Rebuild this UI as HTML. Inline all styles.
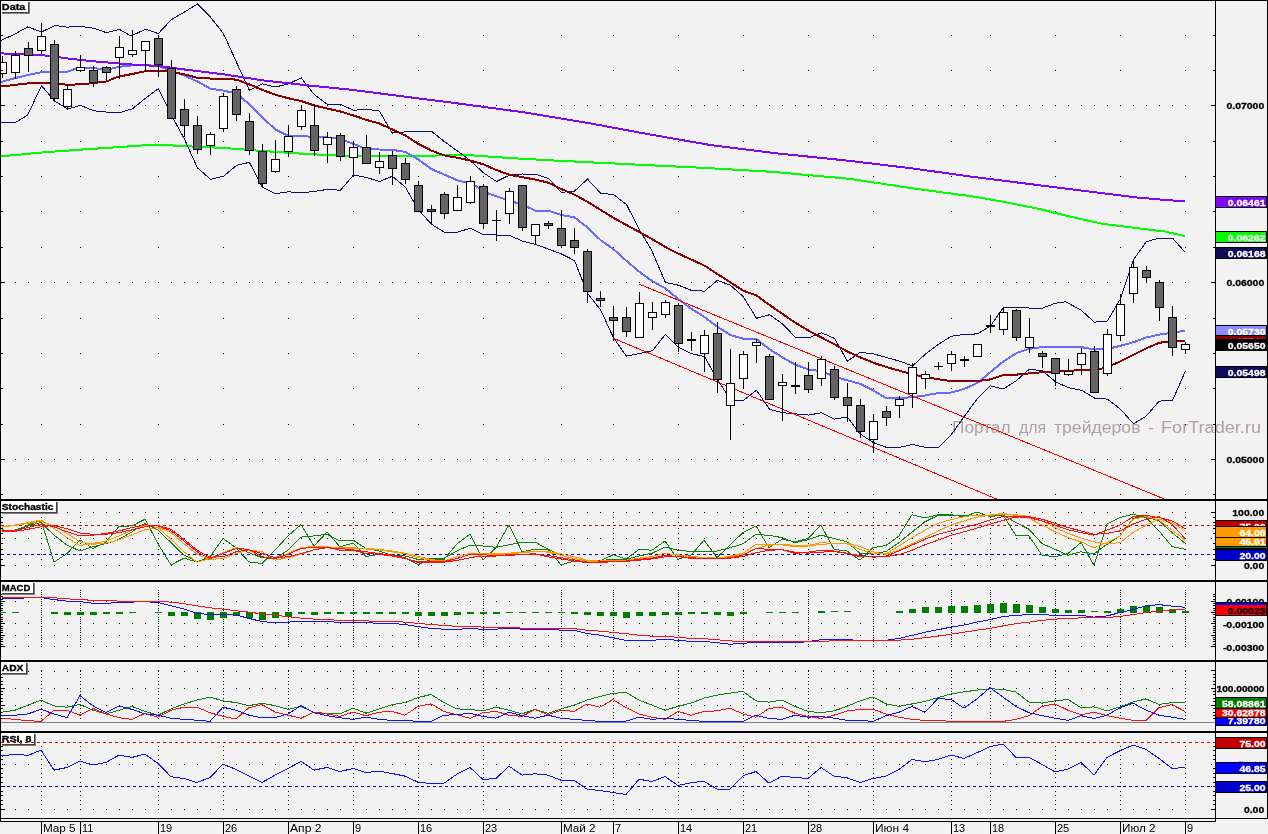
<!DOCTYPE html><html><head><meta charset="utf-8"><style>html,body{margin:0;padding:0;background:#f2f2f2}svg{display:block;will-change:transform}</style></head><body><svg width="1268" height="834" viewBox="0 0 1268 834" shape-rendering="crispEdges" font-family='"Liberation Sans", sans-serif'>
<rect x="0" y="0" width="1268" height="834" fill="#f2f2f2" />
<path d="M41 35h1M80 35h1M158 35h1M223 35h1M288 35h1M353 35h1M418 35h1M483 35h1M561 35h1M613 35h1M678 35h1M743 35h1M808 35h1M873 35h1M951 35h1M990 35h1M1055 35h1M1120 35h1M1185 35h1M41 70h1M80 70h1M158 70h1M223 70h1M288 70h1M353 70h1M418 70h1M483 70h1M561 70h1M613 70h1M678 70h1M743 70h1M808 70h1M873 70h1M951 70h1M990 70h1M1055 70h1M1120 70h1M1185 70h1M41 141h1M80 141h1M158 141h1M223 141h1M288 141h1M353 141h1M418 141h1M483 141h1M561 141h1M613 141h1M678 141h1M743 141h1M808 141h1M873 141h1M951 141h1M990 141h1M1055 141h1M1120 141h1M1185 141h1M41 176h1M80 176h1M158 176h1M223 176h1M288 176h1M353 176h1M418 176h1M483 176h1M561 176h1M613 176h1M678 176h1M743 176h1M808 176h1M873 176h1M951 176h1M990 176h1M1055 176h1M1120 176h1M1185 176h1M41 211h1M80 211h1M158 211h1M223 211h1M288 211h1M353 211h1M418 211h1M483 211h1M561 211h1M613 211h1M678 211h1M743 211h1M808 211h1M873 211h1M951 211h1M990 211h1M1055 211h1M1120 211h1M1185 211h1M41 247h1M80 247h1M158 247h1M223 247h1M288 247h1M353 247h1M418 247h1M483 247h1M561 247h1M613 247h1M678 247h1M743 247h1M808 247h1M873 247h1M951 247h1M990 247h1M1055 247h1M1120 247h1M1185 247h1M41 318h1M80 318h1M158 318h1M223 318h1M288 318h1M353 318h1M418 318h1M483 318h1M561 318h1M613 318h1M678 318h1M743 318h1M808 318h1M873 318h1M951 318h1M990 318h1M1055 318h1M1120 318h1M1185 318h1M41 353h1M80 353h1M158 353h1M223 353h1M288 353h1M353 353h1M418 353h1M483 353h1M561 353h1M613 353h1M678 353h1M743 353h1M808 353h1M873 353h1M951 353h1M990 353h1M1055 353h1M1120 353h1M1185 353h1M41 388h1M80 388h1M158 388h1M223 388h1M288 388h1M353 388h1M418 388h1M483 388h1M561 388h1M613 388h1M678 388h1M743 388h1M808 388h1M873 388h1M951 388h1M990 388h1M1055 388h1M1120 388h1M1185 388h1M41 424h1M80 424h1M158 424h1M223 424h1M288 424h1M353 424h1M418 424h1M483 424h1M561 424h1M613 424h1M678 424h1M743 424h1M808 424h1M873 424h1M951 424h1M990 424h1M1055 424h1M1120 424h1M1185 424h1M41 494h1M80 494h1M158 494h1M223 494h1M288 494h1M353 494h1M418 494h1M483 494h1M561 494h1M613 494h1M678 494h1M743 494h1M808 494h1M873 494h1M951 494h1M990 494h1M1055 494h1M1120 494h1M1185 494h1" stroke="#000" stroke-width="1" fill="none" transform="translate(0,0.5)"/>
<path d="M2 105h1M15 105h1M28 105h1M41 105h1M54 105h1M67 105h1M80 105h1M93 105h1M106 105h1M119 105h1M132 105h1M145 105h1M158 105h1M171 105h1M184 105h1M197 105h1M210 105h1M223 105h1M236 105h1M249 105h1M262 105h1M275 105h1M288 105h1M301 105h1M314 105h1M327 105h1M340 105h1M353 105h1M366 105h1M379 105h1M392 105h1M405 105h1M418 105h1M431 105h1M444 105h1M457 105h1M470 105h1M483 105h1M496 105h1M509 105h1M522 105h1M535 105h1M548 105h1M561 105h1M574 105h1M587 105h1M600 105h1M613 105h1M626 105h1M639 105h1M652 105h1M665 105h1M678 105h1M691 105h1M704 105h1M717 105h1M730 105h1M743 105h1M756 105h1M769 105h1M782 105h1M795 105h1M808 105h1M821 105h1M834 105h1M847 105h1M860 105h1M873 105h1M886 105h1M899 105h1M912 105h1M925 105h1M938 105h1M951 105h1M964 105h1M977 105h1M990 105h1M1003 105h1M1016 105h1M1029 105h1M1042 105h1M1055 105h1M1068 105h1M1081 105h1M1094 105h1M1107 105h1M1120 105h1M1133 105h1M1146 105h1M1159 105h1M1172 105h1M1185 105h1M2 282h1M15 282h1M28 282h1M41 282h1M54 282h1M67 282h1M80 282h1M93 282h1M106 282h1M119 282h1M132 282h1M145 282h1M158 282h1M171 282h1M184 282h1M197 282h1M210 282h1M223 282h1M236 282h1M249 282h1M262 282h1M275 282h1M288 282h1M301 282h1M314 282h1M327 282h1M340 282h1M353 282h1M366 282h1M379 282h1M392 282h1M405 282h1M418 282h1M431 282h1M444 282h1M457 282h1M470 282h1M483 282h1M496 282h1M509 282h1M522 282h1M535 282h1M548 282h1M561 282h1M574 282h1M587 282h1M600 282h1M613 282h1M626 282h1M639 282h1M652 282h1M665 282h1M678 282h1M691 282h1M704 282h1M717 282h1M730 282h1M743 282h1M756 282h1M769 282h1M782 282h1M795 282h1M808 282h1M821 282h1M834 282h1M847 282h1M860 282h1M873 282h1M886 282h1M899 282h1M912 282h1M925 282h1M938 282h1M951 282h1M964 282h1M977 282h1M990 282h1M1003 282h1M1016 282h1M1029 282h1M1042 282h1M1055 282h1M1068 282h1M1081 282h1M1094 282h1M1107 282h1M1120 282h1M1133 282h1M1146 282h1M1159 282h1M1172 282h1M1185 282h1M2 459h1M15 459h1M28 459h1M41 459h1M54 459h1M67 459h1M80 459h1M93 459h1M106 459h1M119 459h1M132 459h1M145 459h1M158 459h1M171 459h1M184 459h1M197 459h1M210 459h1M223 459h1M236 459h1M249 459h1M262 459h1M275 459h1M288 459h1M301 459h1M314 459h1M327 459h1M340 459h1M353 459h1M366 459h1M379 459h1M392 459h1M405 459h1M418 459h1M431 459h1M444 459h1M457 459h1M470 459h1M483 459h1M496 459h1M509 459h1M522 459h1M535 459h1M548 459h1M561 459h1M574 459h1M587 459h1M600 459h1M613 459h1M626 459h1M639 459h1M652 459h1M665 459h1M678 459h1M691 459h1M704 459h1M717 459h1M730 459h1M743 459h1M756 459h1M769 459h1M782 459h1M795 459h1M808 459h1M821 459h1M834 459h1M847 459h1M860 459h1M873 459h1M886 459h1M899 459h1M912 459h1M925 459h1M938 459h1M951 459h1M964 459h1M977 459h1M990 459h1M1003 459h1M1016 459h1M1029 459h1M1042 459h1M1055 459h1M1068 459h1M1081 459h1M1094 459h1M1107 459h1M1120 459h1M1133 459h1M1146 459h1M1159 459h1M1172 459h1M1185 459h1" stroke="#000" stroke-width="1" fill="none" transform="translate(0,0.5)"/>
<text x="952" y="433" font-size="16" font-weight="normal" fill="#b0a0a0" text-anchor="start" textLength="58.5" lengthAdjust="spacingAndGlyphs" >Портал</text>
<text x="1019" y="433" font-size="16" font-weight="normal" fill="#b0a0a0" text-anchor="start" textLength="27" lengthAdjust="spacingAndGlyphs" >для</text>
<text x="1054" y="433" font-size="16" font-weight="normal" fill="#b0a0a0" text-anchor="start" textLength="86.5" lengthAdjust="spacingAndGlyphs" >трейдеров</text>
<text x="1148" y="433" font-size="16" font-weight="normal" fill="#b0a0a0" text-anchor="start" textLength="6" lengthAdjust="spacingAndGlyphs" >-</text>
<text x="1161" y="433" font-size="16" font-weight="normal" fill="#b0a0a0" text-anchor="start" textLength="100" lengthAdjust="spacingAndGlyphs" >ForTrader.ru</text>
<clipPath id="main"><rect x="1" y="1" width="1214" height="498"/></clipPath>
<g clip-path="url(#main)">
<polyline points="0.0,156.5 42.0,152.5 84.0,149.4 125.0,146.7 145.4,145.2 164.5,145.0 184.4,146.2 223.5,147.9 262.3,151.0 305.0,153.9 353.5,156.4 418.4,155.9 465.0,154.9 509.3,158.0 561.4,160.9 649.0,165.2 712.0,168.3 775.5,172.1 850.0,178.9 913.0,188.4 976.0,196.9 1007.7,202.6 1039.0,208.9 1070.8,216.8 1102.0,223.7 1134.0,227.8 1165.5,231.6 1185.3,236.3" fill="none" stroke="#00ff00" stroke-width="2" />
<polyline points="1.3,81.9 15.4,78.0 28.0,75.0 41.5,72.2 54.5,72.0 67.5,71.8 77.2,68.0 93.5,68.0 106.6,69.7 119.5,66.8 132.6,65.3 145.4,65.2 158.3,65.9 171.3,70.7 184.4,75.5 197.4,81.5 210.6,88.7 223.5,90.6 236.5,93.5 249.4,104.3 262.3,117.4 275.3,129.4 288.5,135.9 301.0,136.0 314.0,137.0 327.4,137.4 340.5,139.1 353.5,143.9 366.4,149.2 379.4,149.5 392.3,149.9 405.3,151.8 418.4,159.5 431.4,169.1 444.3,174.6 457.5,180.3 467.6,183.0 474.6,185.5 489.0,193.9 503.4,198.7 522.5,204.7 535.5,210.7 548.4,210.7 561.4,215.0 574.5,217.4 587.5,227.5 600.7,240.2 613.6,249.3 626.6,261.0 639.5,272.0 652.5,281.2 665.4,288.4 678.4,299.1 691.3,308.7 704.5,317.1 717.4,326.7 730.4,335.1 743.3,338.7 756.5,339.2 769.7,349.3 782.5,357.5 795.4,364.7 808.6,369.5 821.5,371.2 834.5,376.7 847.4,380.3 860.4,383.9 873.5,390.6 886.5,398.3 899.4,398.3 912.6,397.1 925.6,395.4 938.5,393.0 951.3,392.5 964.2,389.0 977.4,383.0 990.3,372.2 1003.3,361.5 1016.5,353.1 1029.4,348.8 1042.6,347.1 1055.5,347.1 1068.5,347.1 1081.4,347.1 1094.4,349.6 1107.3,349.0 1120.4,345.8 1133.5,342.2 1146.5,337.4 1159.4,334.6 1172.4,332.7 1185.3,330.7" fill="none" stroke="#6a6aff" stroke-width="2" />
<polyline points="1.3,40.3 15.0,34.0 27.7,26.9 41.5,31.9 55.4,25.5 67.5,27.2 77.2,26.0 93.5,28.2 106.6,32.7 119.5,29.4 131.0,36.1 145.4,29.2 158.3,33.6 171.3,19.7 184.4,12.0 197.4,4.1 210.6,17.3 223.5,33.6 236.5,62.3 249.4,90.4 262.3,83.9 275.3,87.0 288.5,83.9 301.2,77.9 314.4,94.8 327.4,104.3 340.5,104.3 353.5,110.3 366.4,109.1 379.4,111.1 392.3,133.1 405.3,131.9 418.4,131.2 431.4,131.2 444.3,141.5 457.5,151.1 470.0,160.5 483.5,172.8 496.4,181.5 509.3,175.2 522.5,174.0 535.5,174.3 548.4,178.4 561.4,192.3 574.5,191.1 587.5,179.1 600.7,193.2 613.6,194.6 626.6,204.7 639.5,230.0 651.5,250.0 665.4,282.4 678.4,285.2 691.3,290.3 704.5,291.2 717.4,280.4 730.4,285.2 743.3,296.7 756.5,318.3 769.7,314.7 782.5,324.0 795.4,337.2 808.6,337.9 821.5,332.8 834.5,338.4 847.4,361.1 860.4,352.3 873.5,353.9 886.5,357.5 899.4,361.1 912.6,365.9 925.6,353.9 938.5,344.3 951.3,336.3 964.2,334.4 977.4,333.9 990.3,326.2 1003.3,307.5 1016.5,307.5 1029.4,308.0 1042.6,308.0 1055.5,303.2 1065.8,301.8 1081.4,310.4 1094.4,322.2 1107.3,321.0 1120.4,299.0 1133.5,259.5 1146.5,241.6 1159.4,238.0 1172.4,238.0 1185.3,252.4" fill="none" stroke="#101060" stroke-width="1" />
<polyline points="1.3,122.5 15.4,122.5 27.7,115.0 41.5,85.6 54.5,100.9 67.5,109.0 80.6,105.4 93.5,110.8 106.6,112.1 119.5,112.8 132.6,108.7 145.4,98.3 158.3,88.7 171.3,115.0 184.4,139.0 197.4,167.8 210.6,179.3 223.5,176.2 236.5,165.4 249.4,162.3 262.3,187.0 275.3,193.7 288.5,191.8 301.2,193.0 314.4,191.4 327.4,189.4 340.5,190.2 353.5,175.0 366.4,177.4 379.4,181.5 392.3,176.3 405.3,187.0 418.4,209.8 431.4,224.2 444.3,232.1 457.5,232.1 470.3,228.3 483.5,234.7 496.4,235.0 509.3,235.4 522.5,241.1 535.5,244.3 548.4,249.1 561.4,253.9 574.5,260.6 587.5,293.4 600.7,310.0 613.4,337.6 626.4,356.2 639.5,353.5 652.5,350.7 665.4,334.4 678.4,347.1 691.3,353.5 704.5,356.7 717.4,379.4 730.4,399.8 743.3,400.5 756.5,390.2 769.7,409.4 782.5,412.7 795.4,413.9 808.6,415.1 821.5,412.7 834.5,419.1 847.4,417.0 860.4,434.2 873.5,442.6 886.5,447.4 899.4,447.4 912.6,444.5 925.6,447.4 938.5,447.4 951.3,434.6 964.2,416.6 977.4,398.6 990.3,385.9 1003.3,389.0 1016.5,380.6 1029.4,369.1 1042.6,371.0 1055.5,381.8 1068.5,387.8 1081.4,390.2 1094.4,398.0 1107.5,399.1 1120.5,409.2 1133.5,423.8 1146.5,415.9 1159.1,401.1 1172.6,400.3 1185.3,371.4" fill="none" stroke="#101060" stroke-width="1" />
<polyline points="1.3,86.5 27.7,83.4 54.5,83.4 67.5,84.8 80.6,84.3 93.5,83.1 106.6,81.4 117.5,76.9 132.6,73.9 145.4,71.2 158.3,70.7 171.3,71.9 184.4,74.3 197.4,77.9 210.0,78.5 223.0,79.0 236.5,79.6 249.4,84.4 262.3,89.9 275.3,94.7 288.5,98.3 301.0,101.0 314.4,105.5 327.0,108.5 340.5,111.5 353.5,115.5 366.4,119.9 379.4,123.5 392.3,129.5 405.3,135.5 418.4,143.9 431.4,150.6 444.3,155.4 457.5,157.8 470.0,160.5 483.5,164.4 496.4,170.0 509.3,174.8 522.5,177.2 535.5,179.6 548.4,182.7 561.4,189.1 574.5,194.6 587.5,201.8 600.7,210.0 613.6,217.9 626.6,225.1 645.0,235.2 657.0,242.0 670.7,250.0 691.3,259.6 704.5,265.6 717.4,274.0 730.4,282.4 743.3,290.7 756.5,295.5 769.7,305.1 782.5,313.9 795.4,322.8 808.6,330.7 821.5,337.6 834.5,344.3 847.4,351.5 860.4,357.5 873.5,362.8 886.5,367.1 899.4,370.7 912.6,374.3 925.6,377.2 938.5,379.3 951.3,381.1 977.4,381.1 990.3,379.4 1003.3,375.1 1016.5,374.6 1029.4,373.4 1042.6,372.2 1055.5,371.8 1068.5,371.0 1081.4,369.8 1094.4,370.6 1107.3,366.9 1120.4,361.4 1133.5,354.9 1146.5,348.2 1159.4,342.7 1172.4,341.5 1185.3,341.0" fill="none" stroke="#8c0000" stroke-width="2" />
<polyline points="0.0,53.3 1.3,53.4 41.5,55.0 67.5,58.4 93.5,61.3 119.5,63.5 140.0,65.1 158.3,65.9 184.4,69.5 223.5,74.3 262.3,80.3 305.0,85.1 353.5,90.0 418.4,98.4 460.0,103.7 523.0,112.2 586.0,122.6 649.0,134.3 712.0,145.3 775.5,153.2 850.0,160.9 913.0,168.5 976.0,177.3 1039.0,185.2 1102.0,193.1 1134.0,197.2 1165.5,200.0 1185.3,201.3" fill="none" stroke="#8008f8" stroke-width="2" />
<polyline points="639.5,284.3 1170.0,501.3" fill="none" stroke="#ff0000" stroke-width="1" />
<polyline points="613.2,338.2 1003.0,501.7" fill="none" stroke="#ff0000" stroke-width="1" />
<rect x="2" y="56" width="1" height="22" fill="#000" />
<rect x="-2" y="62" width="9" height="12" fill="#000" />
<rect x="-1" y="63" width="7" height="10" fill="#fff" />
<rect x="15" y="51" width="1" height="28" fill="#000" />
<rect x="11" y="55" width="9" height="18" fill="#000" />
<rect x="12" y="56" width="7" height="16" fill="#fff" />
<rect x="28" y="42" width="1" height="30" fill="#000" />
<rect x="24" y="48" width="9" height="8" fill="#000" />
<rect x="25" y="49" width="7" height="6" fill="#646464" />
<rect x="41" y="23" width="1" height="31" fill="#000" />
<rect x="37" y="36" width="9" height="15" fill="#000" />
<rect x="38" y="37" width="7" height="13" fill="#fff" />
<rect x="54" y="40" width="1" height="62" fill="#000" />
<rect x="50" y="44" width="9" height="55" fill="#000" />
<rect x="51" y="45" width="7" height="53" fill="#646464" />
<rect x="67" y="84" width="1" height="26" fill="#000" />
<rect x="63" y="89" width="9" height="18" fill="#000" />
<rect x="64" y="90" width="7" height="16" fill="#fff" />
<rect x="80" y="55" width="1" height="17" fill="#000" />
<rect x="76" y="67" width="9" height="4" fill="#000" />
<rect x="77" y="68" width="7" height="2" fill="#fff" />
<rect x="93" y="66" width="1" height="21" fill="#000" />
<rect x="89" y="70" width="9" height="13" fill="#000" />
<rect x="90" y="71" width="7" height="11" fill="#646464" />
<rect x="106" y="66" width="1" height="15" fill="#000" />
<rect x="102" y="67" width="9" height="6" fill="#000" />
<rect x="103" y="68" width="7" height="4" fill="#646464" />
<rect x="119" y="36" width="1" height="43" fill="#000" />
<rect x="115" y="47" width="9" height="11" fill="#000" />
<rect x="116" y="48" width="7" height="9" fill="#fff" />
<rect x="132" y="30" width="1" height="27" fill="#000" />
<rect x="128" y="50" width="9" height="5" fill="#000" />
<rect x="129" y="51" width="7" height="3" fill="#fff" />
<rect x="145" y="41" width="1" height="31" fill="#000" />
<rect x="141" y="41" width="9" height="10" fill="#000" />
<rect x="142" y="42" width="7" height="8" fill="#fff" />
<rect x="158" y="35" width="1" height="42" fill="#000" />
<rect x="154" y="38" width="9" height="27" fill="#000" />
<rect x="155" y="39" width="7" height="25" fill="#646464" />
<rect x="171" y="60" width="1" height="59" fill="#000" />
<rect x="167" y="68" width="9" height="51" fill="#000" />
<rect x="168" y="69" width="7" height="49" fill="#646464" />
<rect x="184" y="99" width="1" height="38" fill="#000" />
<rect x="180" y="109" width="9" height="17" fill="#000" />
<rect x="181" y="110" width="7" height="15" fill="#646464" />
<rect x="197" y="116" width="1" height="38" fill="#000" />
<rect x="193" y="125" width="9" height="25" fill="#000" />
<rect x="194" y="126" width="7" height="23" fill="#646464" />
<rect x="210" y="132" width="1" height="23" fill="#000" />
<rect x="206" y="134" width="9" height="12" fill="#000" />
<rect x="207" y="135" width="7" height="10" fill="#fff" />
<rect x="223" y="93" width="1" height="39" fill="#000" />
<rect x="219" y="96" width="9" height="33" fill="#000" />
<rect x="220" y="97" width="7" height="31" fill="#fff" />
<rect x="236" y="86" width="1" height="35" fill="#000" />
<rect x="232" y="89" width="9" height="26" fill="#000" />
<rect x="233" y="90" width="7" height="24" fill="#646464" />
<rect x="249" y="113" width="1" height="42" fill="#000" />
<rect x="245" y="121" width="9" height="30" fill="#000" />
<rect x="246" y="122" width="7" height="28" fill="#646464" />
<rect x="262" y="144" width="1" height="43" fill="#000" />
<rect x="258" y="151" width="9" height="33" fill="#000" />
<rect x="259" y="152" width="7" height="31" fill="#646464" />
<rect x="275" y="140" width="1" height="33" fill="#000" />
<rect x="271" y="159" width="9" height="13" fill="#000" />
<rect x="272" y="160" width="7" height="11" fill="#fff" />
<rect x="288" y="125" width="1" height="32" fill="#000" />
<rect x="284" y="136" width="9" height="16" fill="#000" />
<rect x="285" y="137" width="7" height="14" fill="#fff" />
<rect x="301" y="105" width="1" height="25" fill="#000" />
<rect x="297" y="110" width="9" height="17" fill="#000" />
<rect x="298" y="111" width="7" height="15" fill="#fff" />
<rect x="314" y="104" width="1" height="52" fill="#000" />
<rect x="310" y="125" width="9" height="26" fill="#000" />
<rect x="311" y="126" width="7" height="24" fill="#646464" />
<rect x="327" y="132" width="1" height="31" fill="#000" />
<rect x="323" y="137" width="9" height="8" fill="#000" />
<rect x="324" y="138" width="7" height="6" fill="#fff" />
<rect x="340" y="133" width="1" height="28" fill="#000" />
<rect x="336" y="135" width="9" height="22" fill="#000" />
<rect x="337" y="136" width="7" height="20" fill="#646464" />
<rect x="353" y="141" width="1" height="34" fill="#000" />
<rect x="349" y="147" width="9" height="11" fill="#000" />
<rect x="350" y="148" width="7" height="9" fill="#fff" />
<rect x="366" y="135" width="1" height="29" fill="#000" />
<rect x="362" y="147" width="9" height="17" fill="#000" />
<rect x="363" y="148" width="7" height="15" fill="#646464" />
<rect x="379" y="152" width="1" height="22" fill="#000" />
<rect x="375" y="161" width="9" height="7" fill="#000" />
<rect x="376" y="162" width="7" height="5" fill="#fff" />
<rect x="392" y="151" width="1" height="34" fill="#000" />
<rect x="388" y="155" width="9" height="14" fill="#000" />
<rect x="389" y="156" width="7" height="12" fill="#646464" />
<rect x="405" y="158" width="1" height="26" fill="#000" />
<rect x="401" y="163" width="9" height="17" fill="#000" />
<rect x="402" y="164" width="7" height="15" fill="#646464" />
<rect x="418" y="181" width="1" height="31" fill="#000" />
<rect x="414" y="185" width="9" height="27" fill="#000" />
<rect x="415" y="186" width="7" height="25" fill="#646464" />
<rect x="431" y="205" width="1" height="19" fill="#000" />
<rect x="427" y="209" width="9" height="3" fill="#000" />
<rect x="428" y="210" width="7" height="1" fill="#646464" />
<rect x="444" y="192" width="1" height="27" fill="#000" />
<rect x="440" y="194" width="9" height="20" fill="#000" />
<rect x="441" y="195" width="7" height="18" fill="#646464" />
<rect x="457" y="185" width="1" height="26" fill="#000" />
<rect x="453" y="197" width="9" height="14" fill="#000" />
<rect x="454" y="198" width="7" height="12" fill="#fff" />
<rect x="470" y="176" width="1" height="28" fill="#000" />
<rect x="466" y="181" width="9" height="22" fill="#000" />
<rect x="467" y="182" width="7" height="20" fill="#fff" />
<rect x="483" y="184" width="1" height="45" fill="#000" />
<rect x="479" y="186" width="9" height="38" fill="#000" />
<rect x="480" y="187" width="7" height="36" fill="#646464" />
<rect x="496" y="210" width="1" height="31" fill="#000" />
<rect x="492" y="220" width="9" height="1" fill="#000" />
<rect x="509" y="188" width="1" height="36" fill="#000" />
<rect x="505" y="191" width="9" height="23" fill="#000" />
<rect x="506" y="192" width="7" height="21" fill="#fff" />
<rect x="522" y="185" width="1" height="46" fill="#000" />
<rect x="518" y="185" width="9" height="43" fill="#000" />
<rect x="519" y="186" width="7" height="41" fill="#646464" />
<rect x="535" y="224" width="1" height="20" fill="#000" />
<rect x="531" y="224" width="9" height="12" fill="#000" />
<rect x="532" y="225" width="7" height="10" fill="#fff" />
<rect x="548" y="221" width="1" height="8" fill="#000" />
<rect x="544" y="223" width="9" height="3" fill="#000" />
<rect x="545" y="224" width="7" height="1" fill="#646464" />
<rect x="561" y="210" width="1" height="38" fill="#000" />
<rect x="557" y="228" width="9" height="18" fill="#000" />
<rect x="558" y="229" width="7" height="16" fill="#646464" />
<rect x="574" y="228" width="1" height="26" fill="#000" />
<rect x="570" y="240" width="9" height="8" fill="#000" />
<rect x="571" y="241" width="7" height="6" fill="#646464" />
<rect x="587" y="249" width="1" height="54" fill="#000" />
<rect x="583" y="251" width="9" height="41" fill="#000" />
<rect x="584" y="252" width="7" height="39" fill="#646464" />
<rect x="600" y="291" width="1" height="16" fill="#000" />
<rect x="596" y="298" width="9" height="3" fill="#000" />
<rect x="597" y="299" width="7" height="1" fill="#646464" />
<rect x="613" y="306" width="1" height="35" fill="#000" />
<rect x="609" y="317" width="9" height="4" fill="#000" />
<rect x="610" y="318" width="7" height="2" fill="#646464" />
<rect x="626" y="307" width="1" height="30" fill="#000" />
<rect x="622" y="317" width="9" height="15" fill="#000" />
<rect x="623" y="318" width="7" height="13" fill="#646464" />
<rect x="639" y="292" width="1" height="46" fill="#000" />
<rect x="635" y="303" width="9" height="35" fill="#000" />
<rect x="636" y="304" width="7" height="33" fill="#fff" />
<rect x="652" y="302" width="1" height="28" fill="#000" />
<rect x="648" y="312" width="9" height="6" fill="#000" />
<rect x="649" y="313" width="7" height="4" fill="#fff" />
<rect x="665" y="300" width="1" height="18" fill="#000" />
<rect x="661" y="302" width="9" height="13" fill="#000" />
<rect x="662" y="303" width="7" height="11" fill="#fff" />
<rect x="678" y="303" width="1" height="49" fill="#000" />
<rect x="674" y="305" width="9" height="39" fill="#000" />
<rect x="675" y="306" width="7" height="37" fill="#646464" />
<rect x="691" y="332" width="1" height="19" fill="#000" />
<rect x="687" y="339" width="9" height="2" fill="#000" />
<rect x="704" y="330" width="1" height="42" fill="#000" />
<rect x="700" y="335" width="9" height="19" fill="#000" />
<rect x="701" y="336" width="7" height="17" fill="#fff" />
<rect x="717" y="322" width="1" height="71" fill="#000" />
<rect x="713" y="333" width="9" height="47" fill="#000" />
<rect x="714" y="334" width="7" height="45" fill="#646464" />
<rect x="730" y="349" width="1" height="91" fill="#000" />
<rect x="726" y="383" width="9" height="23" fill="#000" />
<rect x="727" y="384" width="7" height="21" fill="#fff" />
<rect x="743" y="351" width="1" height="38" fill="#000" />
<rect x="739" y="354" width="9" height="25" fill="#000" />
<rect x="740" y="355" width="7" height="23" fill="#fff" />
<rect x="756" y="339" width="1" height="24" fill="#000" />
<rect x="752" y="342" width="9" height="4" fill="#000" />
<rect x="753" y="343" width="7" height="2" fill="#fff" />
<rect x="769" y="354" width="1" height="46" fill="#000" />
<rect x="765" y="356" width="9" height="44" fill="#000" />
<rect x="766" y="357" width="7" height="42" fill="#646464" />
<rect x="782" y="374" width="1" height="47" fill="#000" />
<rect x="778" y="382" width="9" height="4" fill="#000" />
<rect x="779" y="383" width="7" height="2" fill="#fff" />
<rect x="795" y="362" width="1" height="32" fill="#000" />
<rect x="791" y="385" width="9" height="2" fill="#000" />
<rect x="808" y="362" width="1" height="31" fill="#000" />
<rect x="804" y="375" width="9" height="15" fill="#000" />
<rect x="805" y="376" width="7" height="13" fill="#646464" />
<rect x="821" y="356" width="1" height="30" fill="#000" />
<rect x="817" y="359" width="9" height="20" fill="#000" />
<rect x="818" y="360" width="7" height="18" fill="#fff" />
<rect x="834" y="366" width="1" height="34" fill="#000" />
<rect x="830" y="369" width="9" height="29" fill="#000" />
<rect x="831" y="370" width="7" height="27" fill="#646464" />
<rect x="847" y="383" width="1" height="39" fill="#000" />
<rect x="843" y="397" width="9" height="9" fill="#000" />
<rect x="844" y="398" width="7" height="7" fill="#646464" />
<rect x="860" y="399" width="1" height="39" fill="#000" />
<rect x="856" y="405" width="9" height="27" fill="#000" />
<rect x="857" y="406" width="7" height="25" fill="#646464" />
<rect x="873" y="414" width="1" height="39" fill="#000" />
<rect x="869" y="421" width="9" height="19" fill="#000" />
<rect x="870" y="422" width="7" height="17" fill="#fff" />
<rect x="886" y="406" width="1" height="20" fill="#000" />
<rect x="882" y="411" width="9" height="7" fill="#000" />
<rect x="883" y="412" width="7" height="5" fill="#646464" />
<rect x="899" y="396" width="1" height="22" fill="#000" />
<rect x="895" y="399" width="9" height="7" fill="#000" />
<rect x="896" y="400" width="7" height="5" fill="#fff" />
<rect x="912" y="363" width="1" height="45" fill="#000" />
<rect x="908" y="367" width="9" height="27" fill="#000" />
<rect x="909" y="368" width="7" height="25" fill="#fff" />
<rect x="925" y="371" width="1" height="18" fill="#000" />
<rect x="921" y="374" width="9" height="5" fill="#000" />
<rect x="922" y="375" width="7" height="3" fill="#fff" />
<rect x="938" y="362" width="1" height="8" fill="#000" />
<rect x="934" y="366" width="9" height="1" fill="#000" />
<rect x="951" y="351" width="1" height="20" fill="#000" />
<rect x="947" y="354" width="9" height="10" fill="#000" />
<rect x="948" y="355" width="7" height="8" fill="#fff" />
<rect x="964" y="356" width="1" height="11" fill="#000" />
<rect x="960" y="359" width="9" height="2" fill="#000" />
<rect x="977" y="344" width="1" height="13" fill="#000" />
<rect x="973" y="344" width="9" height="13" fill="#000" />
<rect x="974" y="345" width="7" height="11" fill="#fff" />
<rect x="990" y="315" width="1" height="18" fill="#000" />
<rect x="986" y="325" width="9" height="2" fill="#000" />
<rect x="1003" y="307" width="1" height="28" fill="#000" />
<rect x="999" y="312" width="9" height="18" fill="#000" />
<rect x="1000" y="313" width="7" height="16" fill="#fff" />
<rect x="1016" y="309" width="1" height="32" fill="#000" />
<rect x="1012" y="310" width="9" height="28" fill="#000" />
<rect x="1013" y="311" width="7" height="26" fill="#646464" />
<rect x="1029" y="318" width="1" height="35" fill="#000" />
<rect x="1025" y="337" width="9" height="11" fill="#000" />
<rect x="1026" y="338" width="7" height="9" fill="#fff" />
<rect x="1042" y="351" width="1" height="17" fill="#000" />
<rect x="1038" y="353" width="9" height="4" fill="#000" />
<rect x="1039" y="354" width="7" height="2" fill="#646464" />
<rect x="1055" y="358" width="1" height="28" fill="#000" />
<rect x="1051" y="358" width="9" height="16" fill="#000" />
<rect x="1052" y="359" width="7" height="14" fill="#646464" />
<rect x="1068" y="359" width="1" height="17" fill="#000" />
<rect x="1064" y="371" width="9" height="4" fill="#000" />
<rect x="1065" y="372" width="7" height="2" fill="#fff" />
<rect x="1081" y="348" width="1" height="27" fill="#000" />
<rect x="1077" y="353" width="9" height="12" fill="#000" />
<rect x="1078" y="354" width="7" height="10" fill="#fff" />
<rect x="1094" y="346" width="1" height="47" fill="#000" />
<rect x="1090" y="351" width="9" height="42" fill="#000" />
<rect x="1091" y="352" width="7" height="40" fill="#646464" />
<rect x="1107" y="329" width="1" height="47" fill="#000" />
<rect x="1103" y="334" width="9" height="40" fill="#000" />
<rect x="1104" y="335" width="7" height="38" fill="#fff" />
<rect x="1120" y="294" width="1" height="47" fill="#000" />
<rect x="1116" y="304" width="9" height="32" fill="#000" />
<rect x="1117" y="305" width="7" height="30" fill="#fff" />
<rect x="1133" y="261" width="1" height="42" fill="#000" />
<rect x="1129" y="267" width="9" height="27" fill="#000" />
<rect x="1130" y="268" width="7" height="25" fill="#fff" />
<rect x="1146" y="266" width="1" height="16" fill="#000" />
<rect x="1142" y="270" width="9" height="8" fill="#000" />
<rect x="1143" y="271" width="7" height="6" fill="#646464" />
<rect x="1159" y="280" width="1" height="41" fill="#000" />
<rect x="1155" y="282" width="9" height="26" fill="#000" />
<rect x="1156" y="283" width="7" height="24" fill="#646464" />
<rect x="1172" y="306" width="1" height="50" fill="#000" />
<rect x="1168" y="317" width="9" height="31" fill="#000" />
<rect x="1169" y="318" width="7" height="29" fill="#646464" />
<rect x="1185" y="342" width="1" height="11" fill="#000" />
<rect x="1181" y="344" width="9" height="6" fill="#000" />
<rect x="1182" y="345" width="7" height="4" fill="#fff" />
</g>
<rect x="0" y="0" width="1268" height="1" fill="#000" />
<rect x="0" y="0" width="1" height="822" fill="#000" />
<rect x="1267" y="0" width="1" height="819" fill="#000" />
<rect x="1215" y="0" width="1" height="822" fill="#000" />
<rect x="0" y="499" width="1268" height="2" fill="#000" />
<rect x="0" y="580" width="1268" height="2" fill="#000" />
<rect x="0" y="660" width="1268" height="2" fill="#000" />
<rect x="0" y="731" width="1268" height="2" fill="#000" />
<rect x="0" y="818" width="1268" height="1" fill="#000" />
<rect x="0" y="821" width="1216" height="1" fill="#000" />
<rect x="1213" y="35" width="2" height="1" fill="#000" />
<rect x="1" y="35" width="2" height="1" fill="#000" />
<rect x="1213" y="70" width="2" height="1" fill="#000" />
<rect x="1" y="70" width="2" height="1" fill="#000" />
<rect x="1211" y="105" width="4" height="1" fill="#000" />
<rect x="1" y="105" width="4" height="1" fill="#000" />
<rect x="1213" y="141" width="2" height="1" fill="#000" />
<rect x="1" y="141" width="2" height="1" fill="#000" />
<rect x="1213" y="176" width="2" height="1" fill="#000" />
<rect x="1" y="176" width="2" height="1" fill="#000" />
<rect x="1213" y="211" width="2" height="1" fill="#000" />
<rect x="1" y="211" width="2" height="1" fill="#000" />
<rect x="1213" y="247" width="2" height="1" fill="#000" />
<rect x="1" y="247" width="2" height="1" fill="#000" />
<rect x="1211" y="282" width="4" height="1" fill="#000" />
<rect x="1" y="282" width="4" height="1" fill="#000" />
<rect x="1213" y="318" width="2" height="1" fill="#000" />
<rect x="1" y="318" width="2" height="1" fill="#000" />
<rect x="1213" y="353" width="2" height="1" fill="#000" />
<rect x="1" y="353" width="2" height="1" fill="#000" />
<rect x="1213" y="388" width="2" height="1" fill="#000" />
<rect x="1" y="388" width="2" height="1" fill="#000" />
<rect x="1213" y="424" width="2" height="1" fill="#000" />
<rect x="1" y="424" width="2" height="1" fill="#000" />
<rect x="1211" y="459" width="4" height="1" fill="#000" />
<rect x="1" y="459" width="4" height="1" fill="#000" />
<rect x="1213" y="494" width="2" height="1" fill="#000" />
<rect x="1" y="494" width="2" height="1" fill="#000" />
<text x="1264.2" y="109" font-size="9.3" font-weight="bold" fill="#000" text-anchor="end" textLength="37.7" lengthAdjust="spacingAndGlyphs" stroke="#000" stroke-width="0.3">0.07000</text>
<text x="1264.2" y="286" font-size="9.3" font-weight="bold" fill="#000" text-anchor="end" textLength="37.7" lengthAdjust="spacingAndGlyphs" stroke="#000" stroke-width="0.3">0.06000</text>
<text x="1264.2" y="463" font-size="9.3" font-weight="bold" fill="#000" text-anchor="end" textLength="37.7" lengthAdjust="spacingAndGlyphs" stroke="#000" stroke-width="0.3">0.05000</text>
<clipPath id="c331"><rect x="1216" y="196" width="52" height="12"/></clipPath>
<g clip-path="url(#c331)">
<rect x="1216" y="196" width="51" height="12" fill="#000" />
<rect x="1216" y="197" width="50" height="10" fill="#8008f8" />
<text x="1265.5" y="206" font-size="9.3" font-weight="bold" fill="#fff" text-anchor="end" textLength="37.7" lengthAdjust="spacingAndGlyphs" stroke="#fff" stroke-width="0.3">0.06461</text>
</g>
<clipPath id="c337"><rect x="1216" y="231" width="52" height="12"/></clipPath>
<g clip-path="url(#c337)">
<rect x="1216" y="231" width="51" height="12" fill="#000" />
<rect x="1216" y="232" width="50" height="10" fill="#00ff00" />
<text x="1265.5" y="241" font-size="9.3" font-weight="bold" fill="#fff" text-anchor="end" textLength="37.7" lengthAdjust="spacingAndGlyphs" stroke="#fff" stroke-width="0.3">0.06262</text>
</g>
<clipPath id="c343"><rect x="1216" y="247" width="52" height="12"/></clipPath>
<g clip-path="url(#c343)">
<rect x="1216" y="247" width="51" height="12" fill="#000" />
<rect x="1216" y="248" width="50" height="10" fill="#0c0c58" />
<text x="1265.5" y="257" font-size="9.3" font-weight="bold" fill="#fff" text-anchor="end" textLength="37.7" lengthAdjust="spacingAndGlyphs" stroke="#fff" stroke-width="0.3">0.06168</text>
</g>
<clipPath id="c349"><rect x="1216" y="325" width="52" height="10"/></clipPath>
<g clip-path="url(#c349)">
<rect x="1216" y="325" width="51" height="12" fill="#000" />
<rect x="1216" y="326" width="50" height="10" fill="#8c8cff" />
<text x="1265.5" y="335" font-size="9.3" font-weight="bold" fill="#fff" text-anchor="end" textLength="37.7" lengthAdjust="spacingAndGlyphs" stroke="#fff" stroke-width="0.3">0.05730</text>
</g>
<clipPath id="c355"><rect x="1216" y="335" width="52" height="4"/></clipPath>
<g clip-path="url(#c355)">
<rect x="1216" y="335" width="51" height="12" fill="#000" />
<rect x="1216" y="336" width="50" height="10" fill="#8c0000" />
<text x="1265.5" y="345" font-size="9.3" font-weight="bold" fill="#fff" text-anchor="end" textLength="37.7" lengthAdjust="spacingAndGlyphs" stroke="#fff" stroke-width="0.3">0.05713</text>
</g>
<rect x="1216" y="339" width="52" height="12" fill="#000" />
<text x="1265.5" y="349" font-size="9.3" font-weight="bold" fill="#fff" text-anchor="end" textLength="37.7" lengthAdjust="spacingAndGlyphs" stroke="#fff" stroke-width="0.3">0.05650</text>
<clipPath id="c363"><rect x="1216" y="366" width="52" height="12"/></clipPath>
<g clip-path="url(#c363)">
<rect x="1216" y="366" width="51" height="12" fill="#000" />
<rect x="1216" y="367" width="50" height="10" fill="#0c0c58" />
<text x="1265.5" y="376" font-size="9.3" font-weight="bold" fill="#fff" text-anchor="end" textLength="37.7" lengthAdjust="spacingAndGlyphs" stroke="#fff" stroke-width="0.3">0.05498</text>
</g>
<rect x="2" y="2" width="28" height="12" fill="#808080" />
<rect x="2" y="2" width="27" height="11" fill="#404040" />
<rect x="1" y="1" width="27" height="11" fill="#fff" />
<text x="1.8" y="10" font-size="9.4" font-weight="bold" fill="#000" text-anchor="start" textLength="23.6" lengthAdjust="spacingAndGlyphs" stroke="#000" stroke-width="0.35">Data</text>
<path d="M2 512h1M15 512h1M28 512h1M41 512h1M54 512h1M67 512h1M80 512h1M93 512h1M106 512h1M119 512h1M132 512h1M145 512h1M158 512h1M171 512h1M184 512h1M197 512h1M210 512h1M223 512h1M236 512h1M249 512h1M262 512h1M275 512h1M288 512h1M301 512h1M314 512h1M327 512h1M340 512h1M353 512h1M366 512h1M379 512h1M392 512h1M405 512h1M418 512h1M431 512h1M444 512h1M457 512h1M470 512h1M483 512h1M496 512h1M509 512h1M522 512h1M535 512h1M548 512h1M561 512h1M574 512h1M587 512h1M600 512h1M613 512h1M626 512h1M639 512h1M652 512h1M665 512h1M678 512h1M691 512h1M704 512h1M717 512h1M730 512h1M743 512h1M756 512h1M769 512h1M782 512h1M795 512h1M808 512h1M821 512h1M834 512h1M847 512h1M860 512h1M873 512h1M886 512h1M899 512h1M912 512h1M925 512h1M938 512h1M951 512h1M964 512h1M977 512h1M990 512h1M1003 512h1M1016 512h1M1029 512h1M1042 512h1M1055 512h1M1068 512h1M1081 512h1M1094 512h1M1107 512h1M1120 512h1M1133 512h1M1146 512h1M1159 512h1M1172 512h1M1185 512h1M2 538h1M15 538h1M28 538h1M41 538h1M54 538h1M67 538h1M80 538h1M93 538h1M106 538h1M119 538h1M132 538h1M145 538h1M158 538h1M171 538h1M184 538h1M197 538h1M210 538h1M223 538h1M236 538h1M249 538h1M262 538h1M275 538h1M288 538h1M301 538h1M314 538h1M327 538h1M340 538h1M353 538h1M366 538h1M379 538h1M392 538h1M405 538h1M418 538h1M431 538h1M444 538h1M457 538h1M470 538h1M483 538h1M496 538h1M509 538h1M522 538h1M535 538h1M548 538h1M561 538h1M574 538h1M587 538h1M600 538h1M613 538h1M626 538h1M639 538h1M652 538h1M665 538h1M678 538h1M691 538h1M704 538h1M717 538h1M730 538h1M743 538h1M756 538h1M769 538h1M782 538h1M795 538h1M808 538h1M821 538h1M834 538h1M847 538h1M860 538h1M873 538h1M886 538h1M899 538h1M912 538h1M925 538h1M938 538h1M951 538h1M964 538h1M977 538h1M990 538h1M1003 538h1M1016 538h1M1029 538h1M1042 538h1M1055 538h1M1068 538h1M1081 538h1M1094 538h1M1107 538h1M1120 538h1M1133 538h1M1146 538h1M1159 538h1M1172 538h1M1185 538h1M2 565h1M15 565h1M28 565h1M41 565h1M54 565h1M67 565h1M80 565h1M93 565h1M106 565h1M119 565h1M132 565h1M145 565h1M158 565h1M171 565h1M184 565h1M197 565h1M210 565h1M223 565h1M236 565h1M249 565h1M262 565h1M275 565h1M288 565h1M301 565h1M314 565h1M327 565h1M340 565h1M353 565h1M366 565h1M379 565h1M392 565h1M405 565h1M418 565h1M431 565h1M444 565h1M457 565h1M470 565h1M483 565h1M496 565h1M509 565h1M522 565h1M535 565h1M548 565h1M561 565h1M574 565h1M587 565h1M600 565h1M613 565h1M626 565h1M639 565h1M652 565h1M665 565h1M678 565h1M691 565h1M704 565h1M717 565h1M730 565h1M743 565h1M756 565h1M769 565h1M782 565h1M795 565h1M808 565h1M821 565h1M834 565h1M847 565h1M860 565h1M873 565h1M886 565h1M899 565h1M912 565h1M925 565h1M938 565h1M951 565h1M964 565h1M977 565h1M990 565h1M1003 565h1M1016 565h1M1029 565h1M1042 565h1M1055 565h1M1068 565h1M1081 565h1M1094 565h1M1107 565h1M1120 565h1M1133 565h1M1146 565h1M1159 565h1M1172 565h1M1185 565h1" stroke="#000" stroke-width="1" fill="none" transform="translate(0,0.5)"/>
<path d="M41 565h1M80 565h1M158 565h1M223 565h1M288 565h1M353 565h1M418 565h1M483 565h1M561 565h1M613 565h1M678 565h1M743 565h1M808 565h1M873 565h1M951 565h1M990 565h1M1055 565h1M1120 565h1M1185 565h1M41 559h1M80 559h1M158 559h1M223 559h1M288 559h1M353 559h1M418 559h1M483 559h1M561 559h1M613 559h1M678 559h1M743 559h1M808 559h1M873 559h1M951 559h1M990 559h1M1055 559h1M1120 559h1M1185 559h1M41 554h1M80 554h1M158 554h1M223 554h1M288 554h1M353 554h1M418 554h1M483 554h1M561 554h1M613 554h1M678 554h1M743 554h1M808 554h1M873 554h1M951 554h1M990 554h1M1055 554h1M1120 554h1M1185 554h1M41 549h1M80 549h1M158 549h1M223 549h1M288 549h1M353 549h1M418 549h1M483 549h1M561 549h1M613 549h1M678 549h1M743 549h1M808 549h1M873 549h1M951 549h1M990 549h1M1055 549h1M1120 549h1M1185 549h1M41 543h1M80 543h1M158 543h1M223 543h1M288 543h1M353 543h1M418 543h1M483 543h1M561 543h1M613 543h1M678 543h1M743 543h1M808 543h1M873 543h1M951 543h1M990 543h1M1055 543h1M1120 543h1M1185 543h1M41 538h1M80 538h1M158 538h1M223 538h1M288 538h1M353 538h1M418 538h1M483 538h1M561 538h1M613 538h1M678 538h1M743 538h1M808 538h1M873 538h1M951 538h1M990 538h1M1055 538h1M1120 538h1M1185 538h1M41 533h1M80 533h1M158 533h1M223 533h1M288 533h1M353 533h1M418 533h1M483 533h1M561 533h1M613 533h1M678 533h1M743 533h1M808 533h1M873 533h1M951 533h1M990 533h1M1055 533h1M1120 533h1M1185 533h1M41 528h1M80 528h1M158 528h1M223 528h1M288 528h1M353 528h1M418 528h1M483 528h1M561 528h1M613 528h1M678 528h1M743 528h1M808 528h1M873 528h1M951 528h1M990 528h1M1055 528h1M1120 528h1M1185 528h1M41 522h1M80 522h1M158 522h1M223 522h1M288 522h1M353 522h1M418 522h1M483 522h1M561 522h1M613 522h1M678 522h1M743 522h1M808 522h1M873 522h1M951 522h1M990 522h1M1055 522h1M1120 522h1M1185 522h1M41 517h1M80 517h1M158 517h1M223 517h1M288 517h1M353 517h1M418 517h1M483 517h1M561 517h1M613 517h1M678 517h1M743 517h1M808 517h1M873 517h1M951 517h1M990 517h1M1055 517h1M1120 517h1M1185 517h1M41 512h1M80 512h1M158 512h1M223 512h1M288 512h1M353 512h1M418 512h1M483 512h1M561 512h1M613 512h1M678 512h1M743 512h1M808 512h1M873 512h1M951 512h1M990 512h1M1055 512h1M1120 512h1M1185 512h1" stroke="#000" stroke-width="1" fill="none" transform="translate(0,0.5)"/>
<path d="M1 525.5H1215" stroke="#cc0000" stroke-dasharray="3 3" fill="none"/>
<path d="M1 554.5H1215" stroke="#0000cc" stroke-dasharray="3 3" fill="none"/>
<clipPath id="sto"><rect x="1" y="501" width="1214" height="79"/></clipPath><g clip-path="url(#sto)">
<polyline points="2.0,529.8 15.0,530.9 28.0,525.1 41.0,520.1 54.0,562.2 67.0,553.5 80.0,539.8 93.0,548.5 106.0,541.8 119.0,526.4 132.0,525.9 145.0,519.2 158.0,543.8 171.0,564.9 184.0,558.2 197.0,561.9 210.0,556.8 223.0,538.5 236.0,547.7 249.0,561.9 262.0,563.5 275.0,550.2 288.0,535.9 301.0,524.7 314.0,546.0 327.0,532.1 340.0,546.8 353.0,543.1 366.0,556.5 379.0,554.3 392.0,554.3 405.0,557.7 418.0,564.6 431.0,559.4 444.0,559.4 457.0,543.8 470.0,534.3 483.0,560.2 496.0,547.7 509.0,524.7 522.0,551.8 535.0,549.3 548.0,549.3 561.0,564.9 574.0,561.0 587.0,561.0 600.0,561.0 613.0,554.8 626.0,559.1 639.0,549.3 652.0,550.2 665.0,541.0 678.0,559.4 691.0,555.2 704.0,540.1 717.0,557.7 730.0,544.8 743.0,532.6 756.0,525.9 769.0,547.7 782.0,539.3 795.0,541.8 808.0,538.5 821.0,525.1 834.0,549.3 847.0,551.0 860.0,560.2 873.0,547.7 886.0,545.5 899.0,535.9 912.0,514.7 925.0,518.1 938.0,514.7 951.0,514.7 964.0,516.7 977.0,512.0 990.0,516.7 1003.0,514.7 1016.0,535.9 1029.0,535.9 1042.0,555.2 1055.0,556.8 1068.0,553.5 1081.0,542.6 1094.0,565.2 1107.0,524.2 1120.0,517.6 1133.0,514.2 1146.0,517.6 1159.0,530.9 1172.0,546.5 1185.0,549.3" fill="none" stroke="#108010" stroke-width="1" />
<polyline points="2.0,530.9 15.0,530.1 28.0,525.9 41.0,522.6 54.0,535.1 67.0,545.1 80.0,551.0 93.0,546.8 106.0,543.5 119.0,539.3 132.0,531.8 145.0,523.4 158.0,530.1 171.0,542.6 184.0,555.2 197.0,561.5 210.0,558.9 223.0,553.5 236.0,547.7 249.0,552.7 262.0,557.7 275.0,558.5 288.0,550.2 301.0,537.1 314.0,535.9 327.0,534.3 340.0,541.0 353.0,540.1 366.0,548.5 379.0,551.0 392.0,555.2 405.0,556.0 418.0,559.4 431.0,558.5 444.0,558.2 457.0,551.0 470.0,545.1 483.0,546.0 496.0,547.3 509.0,544.8 522.0,542.1 535.0,542.1 548.0,549.3 561.0,555.2 574.0,558.5 587.0,561.0 600.0,560.5 613.0,559.4 626.0,559.4 639.0,556.0 652.0,553.2 665.0,547.1 678.0,550.2 691.0,551.5 704.0,551.5 717.0,551.0 730.0,547.7 743.0,543.8 756.0,534.3 769.0,535.4 782.0,537.6 795.0,542.6 808.0,539.8 821.0,535.1 834.0,538.5 847.0,541.8 860.0,553.5 873.0,553.5 886.0,551.5 899.0,542.6 912.0,532.1 925.0,521.7 938.0,515.4 951.0,515.4 964.0,515.4 977.0,515.0 990.0,515.4 1003.0,515.0 1016.0,522.6 1029.0,529.3 1042.0,543.5 1055.0,549.3 1068.0,555.2 1081.0,551.8 1094.0,553.8 1107.0,544.3 1120.0,535.9 1133.0,518.4 1146.0,516.4 1159.0,520.9 1172.0,532.6 1185.0,543.1" fill="none" stroke="#108010" stroke-width="1" />
<polyline points="2.0,527.1 15.0,525.4 28.0,523.4 41.0,521.4 54.0,525.9 67.0,533.4 80.0,541.8 93.0,544.3 106.0,543.1 119.0,539.8 132.0,534.8 145.0,529.8 158.0,527.1 171.0,532.6 184.0,543.8 197.0,554.3 210.0,559.4 223.0,558.5 236.0,553.5 249.0,550.2 262.0,551.5 275.0,560.2 288.0,557.7 301.0,554.3 314.0,549.8 327.0,547.1 340.0,547.3 353.0,548.5 366.0,548.5 379.0,549.3 392.0,551.0 405.0,553.2 418.0,556.3 431.0,559.4 444.0,561.5 457.0,560.5 470.0,557.7 483.0,554.8 496.0,554.3 509.0,553.8 522.0,552.8 535.0,551.5 548.0,551.5 561.0,553.8 574.0,556.8 587.0,560.2 600.0,561.2 613.0,561.0 626.0,560.4 639.0,558.9 652.0,557.7 665.0,555.2 678.0,554.8 691.0,556.5 704.0,557.7 717.0,558.5 730.0,556.8 743.0,554.3 756.0,548.5 769.0,545.1 782.0,544.8 795.0,546.8 808.0,546.0 821.0,544.3 834.0,543.6 847.0,543.1 860.0,546.5 873.0,551.8 886.0,554.3 899.0,550.2 912.0,543.8 925.0,537.6 938.0,530.9 951.0,525.1 964.0,520.9 977.0,517.1 990.0,515.4 1003.0,514.2 1016.0,514.7 1029.0,516.4 1042.0,520.9 1055.0,527.6 1068.0,533.4 1081.0,538.1 1094.0,541.8 1107.0,543.8 1120.0,542.6 1133.0,532.6 1146.0,525.1 1159.0,519.2 1172.0,522.6 1185.0,530.4" fill="none" stroke="#ff9800" stroke-width="1" />
<polyline points="2.0,526.4 15.0,525.1 28.0,522.6 41.0,520.1 54.0,528.4 67.0,537.6 80.0,545.5 93.0,543.5 106.0,541.0 119.0,535.9 132.0,530.1 145.0,525.1 158.0,527.6 171.0,539.3 184.0,551.8 197.0,562.2 210.0,558.5 223.0,552.7 236.0,547.7 249.0,550.2 262.0,556.8 275.0,558.5 288.0,553.5 301.0,547.7 314.0,546.5 327.0,546.8 340.0,548.5 353.0,547.7 366.0,549.0 379.0,549.8 392.0,551.8 405.0,553.8 418.0,557.7 431.0,560.2 444.0,561.0 457.0,556.8 470.0,553.5 483.0,553.5 496.0,553.8 509.0,553.2 522.0,552.2 535.0,551.0 548.0,552.2 561.0,555.2 574.0,558.5 587.0,561.0 600.0,561.0 613.0,560.5 626.0,560.2 639.0,558.2 652.0,556.5 665.0,553.2 678.0,555.2 691.0,556.8 704.0,557.2 717.0,558.2 730.0,556.0 743.0,553.2 756.0,544.3 769.0,544.3 782.0,544.3 795.0,545.5 808.0,545.5 821.0,542.6 834.0,543.5 847.0,543.8 860.0,549.3 873.0,553.8 886.0,553.8 899.0,546.0 912.0,537.6 925.0,530.1 938.0,523.4 951.0,519.7 964.0,516.7 977.0,515.0 990.0,515.0 1003.0,513.4 1016.0,515.4 1029.0,518.1 1042.0,525.1 1055.0,531.8 1068.0,537.6 1081.0,541.8 1094.0,547.7 1107.0,542.6 1120.0,535.9 1133.0,519.2 1146.0,516.7 1159.0,520.1 1172.0,530.1 1185.0,540.1" fill="none" stroke="#ff9800" stroke-width="1" />
<polyline points="2.0,531.4 15.0,531.4 28.0,529.3 41.0,526.8 54.0,525.4 67.0,528.8 80.0,533.1 93.0,534.3 106.0,534.3 119.0,532.6 132.0,529.8 145.0,526.8 158.0,525.6 171.0,529.3 184.0,539.3 197.0,550.2 210.0,557.2 223.0,556.8 236.0,551.8 249.0,549.8 262.0,553.5 275.0,557.7 288.0,556.8 301.0,553.5 314.0,549.8 327.0,547.7 340.0,548.5 353.0,549.8 366.0,551.8 379.0,553.5 392.0,555.2 405.0,557.7 418.0,562.7 431.0,562.2 444.0,562.2 457.0,560.5 470.0,557.7 483.0,556.0 496.0,556.0 509.0,555.2 522.0,554.8 535.0,554.3 548.0,555.5 561.0,557.7 574.0,559.9 587.0,562.2 600.0,562.2 613.0,561.9 626.0,561.4 639.0,560.2 652.0,558.9 665.0,556.8 678.0,556.5 691.0,557.7 704.0,558.5 717.0,558.9 730.0,558.2 743.0,556.5 756.0,552.7 769.0,550.2 782.0,549.8 795.0,552.2 808.0,553.2 821.0,552.2 834.0,551.5 847.0,553.5 860.0,555.5 873.0,557.2 886.0,556.5 899.0,554.8 912.0,550.2 925.0,544.8 938.0,540.1 951.0,535.4 964.0,531.8 977.0,528.1 990.0,524.2 1003.0,520.4 1016.0,517.1 1029.0,516.7 1042.0,519.2 1055.0,523.4 1068.0,527.6 1081.0,530.9 1094.0,534.3 1107.0,533.4 1120.0,530.9 1133.0,524.2 1146.0,519.2 1159.0,516.7 1172.0,524.2 1185.0,538.6" fill="none" stroke="#ff1010" stroke-width="1" />
<polyline points="2.0,530.9 15.0,530.9 28.0,527.6 41.0,524.2 54.0,526.8 67.0,531.8 80.0,535.9 93.0,535.1 106.0,533.4 119.0,530.9 132.0,527.6 145.0,524.7 158.0,525.9 171.0,530.9 184.0,541.0 197.0,551.8 210.0,558.5 223.0,553.5 236.0,548.5 249.0,549.3 262.0,556.8 275.0,558.5 288.0,554.3 301.0,548.5 314.0,547.3 327.0,547.3 340.0,550.2 353.0,550.2 366.0,553.5 379.0,554.3 392.0,556.0 405.0,558.5 418.0,561.9 431.0,561.5 444.0,561.5 457.0,558.5 470.0,554.3 483.0,554.8 496.0,555.5 509.0,554.8 522.0,554.3 535.0,553.8 548.0,556.8 561.0,558.9 574.0,561.0 587.0,562.7 600.0,561.9 613.0,561.5 626.0,561.0 639.0,559.4 652.0,558.2 665.0,555.5 678.0,556.5 691.0,558.5 704.0,558.5 717.0,558.9 730.0,557.7 743.0,555.2 756.0,548.5 769.0,549.3 782.0,549.3 795.0,553.5 808.0,552.2 821.0,550.2 834.0,551.0 847.0,553.2 860.0,556.8 873.0,556.8 886.0,556.0 899.0,551.0 912.0,545.1 925.0,539.3 938.0,534.3 951.0,530.9 964.0,527.6 977.0,524.2 990.0,520.1 1003.0,516.4 1016.0,516.7 1029.0,517.6 1042.0,520.9 1055.0,525.1 1068.0,529.8 1081.0,532.6 1094.0,535.1 1107.0,530.1 1120.0,525.1 1133.0,516.7 1146.0,515.4 1159.0,517.6 1172.0,520.9 1185.0,528.4" fill="none" stroke="#ff1010" stroke-width="1" />
</g>
<rect x="1211" y="565" width="4" height="1" fill="#000" />
<rect x="1" y="565" width="4" height="1" fill="#000" />
<rect x="1213" y="559" width="2" height="1" fill="#000" />
<rect x="1" y="559" width="2" height="1" fill="#000" />
<rect x="1213" y="554" width="2" height="1" fill="#000" />
<rect x="1" y="554" width="2" height="1" fill="#000" />
<rect x="1213" y="549" width="2" height="1" fill="#000" />
<rect x="1" y="549" width="2" height="1" fill="#000" />
<rect x="1213" y="543" width="2" height="1" fill="#000" />
<rect x="1" y="543" width="2" height="1" fill="#000" />
<rect x="1211" y="538" width="1" height="1" fill="#000" />
<rect x="4" y="538" width="1" height="1" fill="#000" />
<rect x="1213" y="533" width="2" height="1" fill="#000" />
<rect x="1" y="533" width="2" height="1" fill="#000" />
<rect x="1213" y="528" width="2" height="1" fill="#000" />
<rect x="1" y="528" width="2" height="1" fill="#000" />
<rect x="1213" y="522" width="2" height="1" fill="#000" />
<rect x="1" y="522" width="2" height="1" fill="#000" />
<rect x="1213" y="517" width="2" height="1" fill="#000" />
<rect x="1" y="517" width="2" height="1" fill="#000" />
<rect x="1211" y="512" width="4" height="1" fill="#000" />
<rect x="1" y="512" width="4" height="1" fill="#000" />
<text x="1264.2" y="516" font-size="9.3" font-weight="bold" fill="#000" text-anchor="end" textLength="31.9" lengthAdjust="spacingAndGlyphs" stroke="#000" stroke-width="0.3">100.00</text>
<text x="1264.2" y="569" font-size="9.3" font-weight="bold" fill="#000" text-anchor="end" textLength="20.3" lengthAdjust="spacingAndGlyphs" stroke="#000" stroke-width="0.3">0.00</text>
<clipPath id="c409"><rect x="1216" y="520" width="52" height="6"/></clipPath>
<g clip-path="url(#c409)">
<rect x="1216" y="520" width="51" height="12" fill="#000" />
<rect x="1216" y="521" width="50" height="10" fill="#c00000" />
<text x="1265.5" y="530" font-size="9.3" font-weight="bold" fill="#fff" text-anchor="end" textLength="26.1" lengthAdjust="spacingAndGlyphs" stroke="#fff" stroke-width="0.3">75.00</text>
</g>
<clipPath id="c415"><rect x="1216" y="535" width="52" height="12"/></clipPath>
<g clip-path="url(#c415)">
<rect x="1216" y="535" width="51" height="12" fill="#000" />
<rect x="1216" y="536" width="50" height="10" fill="#ff9a00" />
<text x="1265.5" y="545" font-size="9.3" font-weight="bold" fill="#fff" text-anchor="end" textLength="26.1" lengthAdjust="spacingAndGlyphs" stroke="#fff" stroke-width="0.3">45.91</text>
</g>
<clipPath id="c421"><rect x="1216" y="526" width="52" height="12"/></clipPath>
<g clip-path="url(#c421)">
<rect x="1216" y="526" width="51" height="12" fill="#000" />
<rect x="1216" y="527" width="50" height="10" fill="#ff9a00" />
<text x="1265.5" y="536" font-size="9.3" font-weight="bold" fill="#fff" text-anchor="end" textLength="26.1" lengthAdjust="spacingAndGlyphs" stroke="#fff" stroke-width="0.3">64.08</text>
</g>
<rect x="1216" y="547" width="51" height="1" fill="#108010" />
<rect x="1216" y="548" width="51" height="1" fill="#000" />
<clipPath id="c429"><rect x="1216" y="549" width="52" height="12"/></clipPath>
<g clip-path="url(#c429)">
<rect x="1216" y="549" width="51" height="12" fill="#000" />
<rect x="1216" y="550" width="50" height="10" fill="#0000cc" />
<text x="1265.5" y="559" font-size="9.3" font-weight="bold" fill="#fff" text-anchor="end" textLength="26.1" lengthAdjust="spacingAndGlyphs" stroke="#fff" stroke-width="0.3">20.00</text>
</g>
<rect x="2" y="502" width="56" height="12" fill="#808080" />
<rect x="2" y="502" width="55" height="11" fill="#404040" />
<rect x="1" y="501" width="55" height="11" fill="#fff" />
<text x="1.8" y="510" font-size="9.4" font-weight="bold" fill="#000" text-anchor="start" textLength="51.6" lengthAdjust="spacingAndGlyphs" stroke="#000" stroke-width="0.35">Stochastic</text>
<path d="M2 601h1M15 601h1M28 601h1M41 601h1M54 601h1M67 601h1M80 601h1M93 601h1M106 601h1M119 601h1M132 601h1M145 601h1M158 601h1M171 601h1M184 601h1M197 601h1M210 601h1M223 601h1M236 601h1M249 601h1M262 601h1M275 601h1M288 601h1M301 601h1M314 601h1M327 601h1M340 601h1M353 601h1M366 601h1M379 601h1M392 601h1M405 601h1M418 601h1M431 601h1M444 601h1M457 601h1M470 601h1M483 601h1M496 601h1M509 601h1M522 601h1M535 601h1M548 601h1M561 601h1M574 601h1M587 601h1M600 601h1M613 601h1M626 601h1M639 601h1M652 601h1M665 601h1M678 601h1M691 601h1M704 601h1M717 601h1M730 601h1M743 601h1M756 601h1M769 601h1M782 601h1M795 601h1M808 601h1M821 601h1M834 601h1M847 601h1M860 601h1M873 601h1M886 601h1M899 601h1M912 601h1M925 601h1M938 601h1M951 601h1M964 601h1M977 601h1M990 601h1M1003 601h1M1016 601h1M1029 601h1M1042 601h1M1055 601h1M1068 601h1M1081 601h1M1094 601h1M1107 601h1M1120 601h1M1133 601h1M1146 601h1M1159 601h1M1172 601h1M1185 601h1M2 623h1M15 623h1M28 623h1M41 623h1M54 623h1M67 623h1M80 623h1M93 623h1M106 623h1M119 623h1M132 623h1M145 623h1M158 623h1M171 623h1M184 623h1M197 623h1M210 623h1M223 623h1M236 623h1M249 623h1M262 623h1M275 623h1M288 623h1M301 623h1M314 623h1M327 623h1M340 623h1M353 623h1M366 623h1M379 623h1M392 623h1M405 623h1M418 623h1M431 623h1M444 623h1M457 623h1M470 623h1M483 623h1M496 623h1M509 623h1M522 623h1M535 623h1M548 623h1M561 623h1M574 623h1M587 623h1M600 623h1M613 623h1M626 623h1M639 623h1M652 623h1M665 623h1M678 623h1M691 623h1M704 623h1M717 623h1M730 623h1M743 623h1M756 623h1M769 623h1M782 623h1M795 623h1M808 623h1M821 623h1M834 623h1M847 623h1M860 623h1M873 623h1M886 623h1M899 623h1M912 623h1M925 623h1M938 623h1M951 623h1M964 623h1M977 623h1M990 623h1M1003 623h1M1016 623h1M1029 623h1M1042 623h1M1055 623h1M1068 623h1M1081 623h1M1094 623h1M1107 623h1M1120 623h1M1133 623h1M1146 623h1M1159 623h1M1172 623h1M1185 623h1M2 635h1M15 635h1M28 635h1M41 635h1M54 635h1M67 635h1M80 635h1M93 635h1M106 635h1M119 635h1M132 635h1M145 635h1M158 635h1M171 635h1M184 635h1M197 635h1M210 635h1M223 635h1M236 635h1M249 635h1M262 635h1M275 635h1M288 635h1M301 635h1M314 635h1M327 635h1M340 635h1M353 635h1M366 635h1M379 635h1M392 635h1M405 635h1M418 635h1M431 635h1M444 635h1M457 635h1M470 635h1M483 635h1M496 635h1M509 635h1M522 635h1M535 635h1M548 635h1M561 635h1M574 635h1M587 635h1M600 635h1M613 635h1M626 635h1M639 635h1M652 635h1M665 635h1M678 635h1M691 635h1M704 635h1M717 635h1M730 635h1M743 635h1M756 635h1M769 635h1M782 635h1M795 635h1M808 635h1M821 635h1M834 635h1M847 635h1M860 635h1M873 635h1M886 635h1M899 635h1M912 635h1M925 635h1M938 635h1M951 635h1M964 635h1M977 635h1M990 635h1M1003 635h1M1016 635h1M1029 635h1M1042 635h1M1055 635h1M1068 635h1M1081 635h1M1094 635h1M1107 635h1M1120 635h1M1133 635h1M1146 635h1M1159 635h1M1172 635h1M1185 635h1M2 646h1M15 646h1M28 646h1M41 646h1M54 646h1M67 646h1M80 646h1M93 646h1M106 646h1M119 646h1M132 646h1M145 646h1M158 646h1M171 646h1M184 646h1M197 646h1M210 646h1M223 646h1M236 646h1M249 646h1M262 646h1M275 646h1M288 646h1M301 646h1M314 646h1M327 646h1M340 646h1M353 646h1M366 646h1M379 646h1M392 646h1M405 646h1M418 646h1M431 646h1M444 646h1M457 646h1M470 646h1M483 646h1M496 646h1M509 646h1M522 646h1M535 646h1M548 646h1M561 646h1M574 646h1M587 646h1M600 646h1M613 646h1M626 646h1M639 646h1M652 646h1M665 646h1M678 646h1M691 646h1M704 646h1M717 646h1M730 646h1M743 646h1M756 646h1M769 646h1M782 646h1M795 646h1M808 646h1M821 646h1M834 646h1M847 646h1M860 646h1M873 646h1M886 646h1M899 646h1M912 646h1M925 646h1M938 646h1M951 646h1M964 646h1M977 646h1M990 646h1M1003 646h1M1016 646h1M1029 646h1M1042 646h1M1055 646h1M1068 646h1M1081 646h1M1094 646h1M1107 646h1M1120 646h1M1133 646h1M1146 646h1M1159 646h1M1172 646h1M1185 646h1" stroke="#000" stroke-width="1" fill="none" transform="translate(0,0.5)"/>
<path d="M41 590h1M80 590h1M158 590h1M223 590h1M288 590h1M353 590h1M418 590h1M483 590h1M561 590h1M613 590h1M678 590h1M743 590h1M808 590h1M873 590h1M951 590h1M990 590h1M1055 590h1M1120 590h1M1185 590h1M41 592h1M80 592h1M158 592h1M223 592h1M288 592h1M353 592h1M418 592h1M483 592h1M561 592h1M613 592h1M678 592h1M743 592h1M808 592h1M873 592h1M951 592h1M990 592h1M1055 592h1M1120 592h1M1185 592h1M41 594h1M80 594h1M158 594h1M223 594h1M288 594h1M353 594h1M418 594h1M483 594h1M561 594h1M613 594h1M678 594h1M743 594h1M808 594h1M873 594h1M951 594h1M990 594h1M1055 594h1M1120 594h1M1185 594h1M41 596h1M80 596h1M158 596h1M223 596h1M288 596h1M353 596h1M418 596h1M483 596h1M561 596h1M613 596h1M678 596h1M743 596h1M808 596h1M873 596h1M951 596h1M990 596h1M1055 596h1M1120 596h1M1185 596h1M41 599h1M80 599h1M158 599h1M223 599h1M288 599h1M353 599h1M418 599h1M483 599h1M561 599h1M613 599h1M678 599h1M743 599h1M808 599h1M873 599h1M951 599h1M990 599h1M1055 599h1M1120 599h1M1185 599h1M41 601h1M80 601h1M158 601h1M223 601h1M288 601h1M353 601h1M418 601h1M483 601h1M561 601h1M613 601h1M678 601h1M743 601h1M808 601h1M873 601h1M951 601h1M990 601h1M1055 601h1M1120 601h1M1185 601h1M41 603h1M80 603h1M158 603h1M223 603h1M288 603h1M353 603h1M418 603h1M483 603h1M561 603h1M613 603h1M678 603h1M743 603h1M808 603h1M873 603h1M951 603h1M990 603h1M1055 603h1M1120 603h1M1185 603h1M41 605h1M80 605h1M158 605h1M223 605h1M288 605h1M353 605h1M418 605h1M483 605h1M561 605h1M613 605h1M678 605h1M743 605h1M808 605h1M873 605h1M951 605h1M990 605h1M1055 605h1M1120 605h1M1185 605h1M41 608h1M80 608h1M158 608h1M223 608h1M288 608h1M353 608h1M418 608h1M483 608h1M561 608h1M613 608h1M678 608h1M743 608h1M808 608h1M873 608h1M951 608h1M990 608h1M1055 608h1M1120 608h1M1185 608h1M41 610h1M80 610h1M158 610h1M223 610h1M288 610h1M353 610h1M418 610h1M483 610h1M561 610h1M613 610h1M678 610h1M743 610h1M808 610h1M873 610h1M951 610h1M990 610h1M1055 610h1M1120 610h1M1185 610h1M41 612h1M80 612h1M158 612h1M223 612h1M288 612h1M353 612h1M418 612h1M483 612h1M561 612h1M613 612h1M678 612h1M743 612h1M808 612h1M873 612h1M951 612h1M990 612h1M1055 612h1M1120 612h1M1185 612h1M41 614h1M80 614h1M158 614h1M223 614h1M288 614h1M353 614h1M418 614h1M483 614h1M561 614h1M613 614h1M678 614h1M743 614h1M808 614h1M873 614h1M951 614h1M990 614h1M1055 614h1M1120 614h1M1185 614h1M41 617h1M80 617h1M158 617h1M223 617h1M288 617h1M353 617h1M418 617h1M483 617h1M561 617h1M613 617h1M678 617h1M743 617h1M808 617h1M873 617h1M951 617h1M990 617h1M1055 617h1M1120 617h1M1185 617h1M41 619h1M80 619h1M158 619h1M223 619h1M288 619h1M353 619h1M418 619h1M483 619h1M561 619h1M613 619h1M678 619h1M743 619h1M808 619h1M873 619h1M951 619h1M990 619h1M1055 619h1M1120 619h1M1185 619h1M41 621h1M80 621h1M158 621h1M223 621h1M288 621h1M353 621h1M418 621h1M483 621h1M561 621h1M613 621h1M678 621h1M743 621h1M808 621h1M873 621h1M951 621h1M990 621h1M1055 621h1M1120 621h1M1185 621h1M41 623h1M80 623h1M158 623h1M223 623h1M288 623h1M353 623h1M418 623h1M483 623h1M561 623h1M613 623h1M678 623h1M743 623h1M808 623h1M873 623h1M951 623h1M990 623h1M1055 623h1M1120 623h1M1185 623h1M41 626h1M80 626h1M158 626h1M223 626h1M288 626h1M353 626h1M418 626h1M483 626h1M561 626h1M613 626h1M678 626h1M743 626h1M808 626h1M873 626h1M951 626h1M990 626h1M1055 626h1M1120 626h1M1185 626h1M41 628h1M80 628h1M158 628h1M223 628h1M288 628h1M353 628h1M418 628h1M483 628h1M561 628h1M613 628h1M678 628h1M743 628h1M808 628h1M873 628h1M951 628h1M990 628h1M1055 628h1M1120 628h1M1185 628h1M41 630h1M80 630h1M158 630h1M223 630h1M288 630h1M353 630h1M418 630h1M483 630h1M561 630h1M613 630h1M678 630h1M743 630h1M808 630h1M873 630h1M951 630h1M990 630h1M1055 630h1M1120 630h1M1185 630h1M41 632h1M80 632h1M158 632h1M223 632h1M288 632h1M353 632h1M418 632h1M483 632h1M561 632h1M613 632h1M678 632h1M743 632h1M808 632h1M873 632h1M951 632h1M990 632h1M1055 632h1M1120 632h1M1185 632h1M41 635h1M80 635h1M158 635h1M223 635h1M288 635h1M353 635h1M418 635h1M483 635h1M561 635h1M613 635h1M678 635h1M743 635h1M808 635h1M873 635h1M951 635h1M990 635h1M1055 635h1M1120 635h1M1185 635h1M41 637h1M80 637h1M158 637h1M223 637h1M288 637h1M353 637h1M418 637h1M483 637h1M561 637h1M613 637h1M678 637h1M743 637h1M808 637h1M873 637h1M951 637h1M990 637h1M1055 637h1M1120 637h1M1185 637h1M41 639h1M80 639h1M158 639h1M223 639h1M288 639h1M353 639h1M418 639h1M483 639h1M561 639h1M613 639h1M678 639h1M743 639h1M808 639h1M873 639h1M951 639h1M990 639h1M1055 639h1M1120 639h1M1185 639h1M41 641h1M80 641h1M158 641h1M223 641h1M288 641h1M353 641h1M418 641h1M483 641h1M561 641h1M613 641h1M678 641h1M743 641h1M808 641h1M873 641h1M951 641h1M990 641h1M1055 641h1M1120 641h1M1185 641h1M41 644h1M80 644h1M158 644h1M223 644h1M288 644h1M353 644h1M418 644h1M483 644h1M561 644h1M613 644h1M678 644h1M743 644h1M808 644h1M873 644h1M951 644h1M990 644h1M1055 644h1M1120 644h1M1185 644h1M41 646h1M80 646h1M158 646h1M223 646h1M288 646h1M353 646h1M418 646h1M483 646h1M561 646h1M613 646h1M678 646h1M743 646h1M808 646h1M873 646h1M951 646h1M990 646h1M1055 646h1M1120 646h1M1185 646h1" stroke="#000" stroke-width="1" fill="none" transform="translate(0,0.5)"/>
<rect x="1213" y="594" width="2" height="1" fill="#000" />
<rect x="1" y="594" width="2" height="1" fill="#000" />
<rect x="1213" y="596" width="2" height="1" fill="#000" />
<rect x="1" y="596" width="2" height="1" fill="#000" />
<rect x="1213" y="599" width="2" height="1" fill="#000" />
<rect x="1" y="599" width="2" height="1" fill="#000" />
<rect x="1211" y="601" width="4" height="1" fill="#000" />
<rect x="1" y="601" width="4" height="1" fill="#000" />
<rect x="1213" y="603" width="2" height="1" fill="#000" />
<rect x="1" y="603" width="2" height="1" fill="#000" />
<rect x="1213" y="605" width="2" height="1" fill="#000" />
<rect x="1" y="605" width="2" height="1" fill="#000" />
<rect x="1213" y="608" width="2" height="1" fill="#000" />
<rect x="1" y="608" width="2" height="1" fill="#000" />
<rect x="1213" y="610" width="2" height="1" fill="#000" />
<rect x="1" y="610" width="2" height="1" fill="#000" />
<rect x="1211" y="612" width="4" height="1" fill="#000" />
<rect x="1" y="612" width="4" height="1" fill="#000" />
<rect x="1213" y="614" width="2" height="1" fill="#000" />
<rect x="1" y="614" width="2" height="1" fill="#000" />
<rect x="1213" y="617" width="2" height="1" fill="#000" />
<rect x="1" y="617" width="2" height="1" fill="#000" />
<rect x="1213" y="619" width="2" height="1" fill="#000" />
<rect x="1" y="619" width="2" height="1" fill="#000" />
<rect x="1213" y="621" width="2" height="1" fill="#000" />
<rect x="1" y="621" width="2" height="1" fill="#000" />
<rect x="1211" y="623" width="4" height="1" fill="#000" />
<rect x="1" y="623" width="4" height="1" fill="#000" />
<rect x="1213" y="626" width="2" height="1" fill="#000" />
<rect x="1" y="626" width="2" height="1" fill="#000" />
<rect x="1213" y="628" width="2" height="1" fill="#000" />
<rect x="1" y="628" width="2" height="1" fill="#000" />
<rect x="1213" y="630" width="2" height="1" fill="#000" />
<rect x="1" y="630" width="2" height="1" fill="#000" />
<rect x="1213" y="632" width="2" height="1" fill="#000" />
<rect x="1" y="632" width="2" height="1" fill="#000" />
<rect x="1211" y="635" width="4" height="1" fill="#000" />
<rect x="1" y="635" width="4" height="1" fill="#000" />
<rect x="1213" y="637" width="2" height="1" fill="#000" />
<rect x="1" y="637" width="2" height="1" fill="#000" />
<rect x="1213" y="639" width="2" height="1" fill="#000" />
<rect x="1" y="639" width="2" height="1" fill="#000" />
<rect x="1213" y="641" width="2" height="1" fill="#000" />
<rect x="1" y="641" width="2" height="1" fill="#000" />
<rect x="1213" y="644" width="2" height="1" fill="#000" />
<rect x="1" y="644" width="2" height="1" fill="#000" />
<rect x="1211" y="646" width="4" height="1" fill="#000" />
<rect x="1" y="646" width="4" height="1" fill="#000" />
<rect x="-1" y="612" width="7" height="1" fill="#108010" />
<rect x="12" y="612" width="7" height="1" fill="#108010" />
<rect x="51" y="612" width="7" height="2" fill="#008000" />
<rect x="64" y="612" width="7" height="3" fill="#008000" />
<rect x="77" y="612" width="7" height="3" fill="#008000" />
<rect x="90" y="612" width="7" height="3" fill="#008000" />
<rect x="103" y="612" width="7" height="2" fill="#008000" />
<rect x="116" y="612" width="7" height="2" fill="#008000" />
<rect x="129" y="612" width="7" height="1" fill="#108010" />
<rect x="155" y="612" width="7" height="1" fill="#108010" />
<rect x="168" y="612" width="7" height="4" fill="#008000" />
<rect x="181" y="612" width="7" height="4" fill="#008000" />
<rect x="194" y="612" width="7" height="7" fill="#008000" />
<rect x="207" y="612" width="7" height="8" fill="#008000" />
<rect x="220" y="612" width="7" height="6" fill="#008000" />
<rect x="233" y="612" width="7" height="4" fill="#008000" />
<rect x="246" y="612" width="7" height="6" fill="#008000" />
<rect x="259" y="612" width="7" height="8" fill="#008000" />
<rect x="272" y="612" width="7" height="6" fill="#008000" />
<rect x="285" y="612" width="7" height="5" fill="#008000" />
<rect x="298" y="612" width="7" height="2" fill="#008000" />
<rect x="311" y="612" width="7" height="3" fill="#008000" />
<rect x="324" y="612" width="7" height="2" fill="#008000" />
<rect x="337" y="612" width="7" height="2" fill="#008000" />
<rect x="350" y="612" width="7" height="2" fill="#008000" />
<rect x="363" y="612" width="7" height="2" fill="#008000" />
<rect x="376" y="612" width="7" height="2" fill="#008000" />
<rect x="389" y="612" width="7" height="2" fill="#008000" />
<rect x="402" y="612" width="7" height="2" fill="#008000" />
<rect x="415" y="612" width="7" height="4" fill="#008000" />
<rect x="428" y="612" width="7" height="4" fill="#008000" />
<rect x="441" y="612" width="7" height="4" fill="#008000" />
<rect x="454" y="612" width="7" height="3" fill="#008000" />
<rect x="467" y="612" width="7" height="2" fill="#008000" />
<rect x="480" y="612" width="7" height="2" fill="#008000" />
<rect x="493" y="612" width="7" height="2" fill="#008000" />
<rect x="506" y="612" width="7" height="1" fill="#108010" />
<rect x="519" y="612" width="7" height="1" fill="#108010" />
<rect x="532" y="612" width="7" height="1" fill="#108010" />
<rect x="545" y="612" width="7" height="1" fill="#108010" />
<rect x="558" y="612" width="7" height="1" fill="#108010" />
<rect x="571" y="612" width="7" height="2" fill="#008000" />
<rect x="584" y="612" width="7" height="3" fill="#008000" />
<rect x="597" y="612" width="7" height="4" fill="#008000" />
<rect x="610" y="612" width="7" height="4" fill="#008000" />
<rect x="623" y="612" width="7" height="6" fill="#008000" />
<rect x="636" y="612" width="7" height="4" fill="#008000" />
<rect x="649" y="612" width="7" height="4" fill="#008000" />
<rect x="662" y="612" width="7" height="3" fill="#008000" />
<rect x="675" y="612" width="7" height="3" fill="#008000" />
<rect x="688" y="612" width="7" height="2" fill="#008000" />
<rect x="701" y="612" width="7" height="2" fill="#008000" />
<rect x="714" y="612" width="7" height="3" fill="#008000" />
<rect x="727" y="612" width="7" height="4" fill="#008000" />
<rect x="740" y="612" width="7" height="2" fill="#008000" />
<rect x="766" y="612" width="7" height="1" fill="#108010" />
<rect x="779" y="612" width="7" height="1" fill="#108010" />
<rect x="792" y="612" width="7" height="1" fill="#108010" />
<rect x="818" y="611" width="7" height="2" fill="#008000" />
<rect x="831" y="611" width="7" height="1" fill="#108010" />
<rect x="844" y="611" width="7" height="1" fill="#108010" />
<rect x="896" y="611" width="7" height="2" fill="#008000" />
<rect x="909" y="609" width="7" height="4" fill="#008000" />
<rect x="922" y="607" width="7" height="6" fill="#008000" />
<rect x="935" y="607" width="7" height="6" fill="#008000" />
<rect x="948" y="606" width="7" height="7" fill="#008000" />
<rect x="961" y="606" width="7" height="7" fill="#008000" />
<rect x="974" y="605" width="7" height="8" fill="#008000" />
<rect x="987" y="604" width="7" height="9" fill="#008000" />
<rect x="1000" y="603" width="7" height="10" fill="#008000" />
<rect x="1013" y="604" width="7" height="9" fill="#008000" />
<rect x="1026" y="605" width="7" height="8" fill="#008000" />
<rect x="1039" y="607" width="7" height="6" fill="#008000" />
<rect x="1052" y="609" width="7" height="4" fill="#008000" />
<rect x="1065" y="610" width="7" height="3" fill="#008000" />
<rect x="1078" y="610" width="7" height="3" fill="#008000" />
<rect x="1091" y="611" width="7" height="1" fill="#108010" />
<rect x="1104" y="611" width="7" height="2" fill="#008000" />
<rect x="1117" y="609" width="7" height="4" fill="#008000" />
<rect x="1130" y="606" width="7" height="7" fill="#008000" />
<rect x="1143" y="606" width="7" height="7" fill="#008000" />
<rect x="1156" y="607" width="7" height="6" fill="#008000" />
<rect x="1169" y="609" width="7" height="4" fill="#008000" />
<rect x="1182" y="611" width="7" height="2" fill="#008000" />
<polyline points="2.0,598.8 15.0,598.8 28.0,597.6 41.0,597.6 54.0,599.6 67.0,601.1 80.0,601.6 93.0,603.3 106.0,603.3 119.0,602.6 132.0,602.1 145.0,601.6 158.0,602.6 171.0,605.8 184.0,609.1 197.0,613.4 210.0,614.6 223.0,614.6 236.0,615.1 249.0,618.4 262.0,621.6 275.0,622.6 288.0,622.1 301.0,621.4 314.0,621.4 327.0,621.4 340.0,622.6 353.0,622.6 366.0,622.6 379.0,623.4 392.0,623.4 405.0,624.6 418.0,626.6 431.0,628.4 444.0,629.2 457.0,629.2 470.0,628.7 483.0,629.2 496.0,629.2 509.0,628.1 522.0,629.2 535.0,629.2 548.0,629.2 561.0,630.2 574.0,630.2 587.0,633.4 600.0,635.2 613.0,637.7 626.0,640.4 639.0,640.4 652.0,640.4 665.0,639.2 678.0,640.4 691.0,641.4 704.0,641.4 717.0,642.7 730.0,644.2 743.0,643.4 756.0,642.2 769.0,642.7 782.0,642.7 795.0,642.7 808.0,641.7 821.0,639.7 834.0,639.7 847.0,639.7 860.0,640.4 873.0,640.4 886.0,640.4 899.0,638.4 912.0,635.4 925.0,632.2 938.0,629.7 951.0,627.1 964.0,625.1 977.0,622.1 990.0,619.6 1003.0,616.6 1016.0,615.4 1029.0,614.6 1042.0,614.6 1055.0,615.4 1068.0,615.4 1081.0,615.4 1094.0,617.1 1107.0,615.9 1120.0,612.6 1133.0,609.6 1146.0,605.8 1159.0,604.6 1172.0,606.1 1185.0,607.3" fill="none" stroke="#1010ff" stroke-width="1" />
<polyline points="2.0,597.6 15.0,597.6 28.0,597.6 41.0,597.6 54.0,597.8 67.0,598.8 80.0,599.6 93.0,600.3 106.0,600.6 119.0,601.1 132.0,601.3 145.0,601.3 158.0,601.3 171.0,602.1 184.0,603.6 197.0,605.8 210.0,607.8 223.0,609.1 236.0,610.8 249.0,612.1 262.0,613.9 275.0,615.4 288.0,616.6 301.0,618.1 314.0,619.1 327.0,619.6 340.0,620.4 353.0,620.4 366.0,620.9 379.0,621.4 392.0,621.4 405.0,622.1 418.0,623.4 431.0,624.6 444.0,625.4 457.0,626.4 470.0,626.6 483.0,627.1 496.0,627.6 509.0,627.6 522.0,628.1 535.0,628.1 548.0,628.1 561.0,628.4 574.0,628.7 587.0,630.2 600.0,631.2 613.0,632.4 626.0,633.7 639.0,635.2 652.0,636.2 665.0,636.2 678.0,637.4 691.0,638.4 704.0,638.7 717.0,639.7 730.0,640.9 743.0,641.7 756.0,641.7 769.0,641.7 782.0,641.7 795.0,641.7 808.0,641.4 821.0,641.2 834.0,640.9 847.0,640.4 860.0,640.4 873.0,640.4 886.0,640.4 899.0,640.2 912.0,639.2 925.0,637.7 938.0,636.2 951.0,634.2 964.0,632.2 977.0,630.2 990.0,628.4 1003.0,625.9 1016.0,623.6 1029.0,622.1 1042.0,620.4 1055.0,619.1 1068.0,618.4 1081.0,617.9 1094.0,617.6 1107.0,617.6 1120.0,616.4 1133.0,614.6 1146.0,612.6 1159.0,611.1 1172.0,610.1 1185.0,609.1" fill="none" stroke="#ff1010" stroke-width="1" />
<text x="1264.2" y="628" font-size="9.3" font-weight="bold" fill="#000" text-anchor="end" textLength="41.3" lengthAdjust="spacingAndGlyphs" stroke="#000" stroke-width="0.3">-0.00100</text>
<text x="1264.2" y="651" font-size="9.3" font-weight="bold" fill="#000" text-anchor="end" textLength="41.3" lengthAdjust="spacingAndGlyphs" stroke="#000" stroke-width="0.3">-0.00300</text>
<text x="1264.2" y="605" font-size="9.3" font-weight="bold" fill="#000" text-anchor="end" textLength="37.7" lengthAdjust="spacingAndGlyphs" stroke="#000" stroke-width="0.3">0.00100</text>
<rect x="1216" y="602" width="51" height="3" fill="#000" />
<rect x="1216" y="603" width="50" height="2" fill="#0000ff" />
<rect x="1216" y="605" width="51" height="11" fill="#000" />
<rect x="1216" y="605" width="50" height="10" fill="#ff0000" />
<text x="1265.5" y="614" font-size="9.3" font-weight="bold" fill="#000" text-anchor="end" textLength="37.7" lengthAdjust="spacingAndGlyphs" stroke="#000" stroke-width="0.3">0.00023</text>
<rect x="2" y="583" width="33" height="12" fill="#808080" />
<rect x="2" y="583" width="32" height="11" fill="#404040" />
<rect x="1" y="582" width="32" height="11" fill="#fff" />
<text x="1.8" y="591" font-size="9.4" font-weight="bold" fill="#000" text-anchor="start" textLength="28.6" lengthAdjust="spacingAndGlyphs" stroke="#000" stroke-width="0.35">MACD</text>
<path d="M2 671h1M15 671h1M28 671h1M41 671h1M54 671h1M67 671h1M80 671h1M93 671h1M106 671h1M119 671h1M132 671h1M145 671h1M158 671h1M171 671h1M184 671h1M197 671h1M210 671h1M223 671h1M236 671h1M249 671h1M262 671h1M275 671h1M288 671h1M301 671h1M314 671h1M327 671h1M340 671h1M353 671h1M366 671h1M379 671h1M392 671h1M405 671h1M418 671h1M431 671h1M444 671h1M457 671h1M470 671h1M483 671h1M496 671h1M509 671h1M522 671h1M535 671h1M548 671h1M561 671h1M574 671h1M587 671h1M600 671h1M613 671h1M626 671h1M639 671h1M652 671h1M665 671h1M678 671h1M691 671h1M704 671h1M717 671h1M730 671h1M743 671h1M756 671h1M769 671h1M782 671h1M795 671h1M808 671h1M821 671h1M834 671h1M847 671h1M860 671h1M873 671h1M886 671h1M899 671h1M912 671h1M925 671h1M938 671h1M951 671h1M964 671h1M977 671h1M990 671h1M1003 671h1M1016 671h1M1029 671h1M1042 671h1M1055 671h1M1068 671h1M1081 671h1M1094 671h1M1107 671h1M1120 671h1M1133 671h1M1146 671h1M1159 671h1M1172 671h1M1185 671h1M2 688h1M15 688h1M28 688h1M41 688h1M54 688h1M67 688h1M80 688h1M93 688h1M106 688h1M119 688h1M132 688h1M145 688h1M158 688h1M171 688h1M184 688h1M197 688h1M210 688h1M223 688h1M236 688h1M249 688h1M262 688h1M275 688h1M288 688h1M301 688h1M314 688h1M327 688h1M340 688h1M353 688h1M366 688h1M379 688h1M392 688h1M405 688h1M418 688h1M431 688h1M444 688h1M457 688h1M470 688h1M483 688h1M496 688h1M509 688h1M522 688h1M535 688h1M548 688h1M561 688h1M574 688h1M587 688h1M600 688h1M613 688h1M626 688h1M639 688h1M652 688h1M665 688h1M678 688h1M691 688h1M704 688h1M717 688h1M730 688h1M743 688h1M756 688h1M769 688h1M782 688h1M795 688h1M808 688h1M821 688h1M834 688h1M847 688h1M860 688h1M873 688h1M886 688h1M899 688h1M912 688h1M925 688h1M938 688h1M951 688h1M964 688h1M977 688h1M990 688h1M1003 688h1M1016 688h1M1029 688h1M1042 688h1M1055 688h1M1068 688h1M1081 688h1M1094 688h1M1107 688h1M1120 688h1M1133 688h1M1146 688h1M1159 688h1M1172 688h1M1185 688h1M2 705h1M15 705h1M28 705h1M41 705h1M54 705h1M67 705h1M80 705h1M93 705h1M106 705h1M119 705h1M132 705h1M145 705h1M158 705h1M171 705h1M184 705h1M197 705h1M210 705h1M223 705h1M236 705h1M249 705h1M262 705h1M275 705h1M288 705h1M301 705h1M314 705h1M327 705h1M340 705h1M353 705h1M366 705h1M379 705h1M392 705h1M405 705h1M418 705h1M431 705h1M444 705h1M457 705h1M470 705h1M483 705h1M496 705h1M509 705h1M522 705h1M535 705h1M548 705h1M561 705h1M574 705h1M587 705h1M600 705h1M613 705h1M626 705h1M639 705h1M652 705h1M665 705h1M678 705h1M691 705h1M704 705h1M717 705h1M730 705h1M743 705h1M756 705h1M769 705h1M782 705h1M795 705h1M808 705h1M821 705h1M834 705h1M847 705h1M860 705h1M873 705h1M886 705h1M899 705h1M912 705h1M925 705h1M938 705h1M951 705h1M964 705h1M977 705h1M990 705h1M1003 705h1M1016 705h1M1029 705h1M1042 705h1M1055 705h1M1068 705h1M1081 705h1M1094 705h1M1107 705h1M1120 705h1M1133 705h1M1146 705h1M1159 705h1M1172 705h1M1185 705h1" stroke="#000" stroke-width="1" fill="none" transform="translate(0,0.5)"/>
<path d="M41 718h1M80 718h1M158 718h1M223 718h1M288 718h1M353 718h1M418 718h1M483 718h1M561 718h1M613 718h1M678 718h1M743 718h1M808 718h1M873 718h1M951 718h1M990 718h1M1055 718h1M1120 718h1M1185 718h1M41 715h1M80 715h1M158 715h1M223 715h1M288 715h1M353 715h1M418 715h1M483 715h1M561 715h1M613 715h1M678 715h1M743 715h1M808 715h1M873 715h1M951 715h1M990 715h1M1055 715h1M1120 715h1M1185 715h1M41 712h1M80 712h1M158 712h1M223 712h1M288 712h1M353 712h1M418 712h1M483 712h1M561 712h1M613 712h1M678 712h1M743 712h1M808 712h1M873 712h1M951 712h1M990 712h1M1055 712h1M1120 712h1M1185 712h1M41 708h1M80 708h1M158 708h1M223 708h1M288 708h1M353 708h1M418 708h1M483 708h1M561 708h1M613 708h1M678 708h1M743 708h1M808 708h1M873 708h1M951 708h1M990 708h1M1055 708h1M1120 708h1M1185 708h1M41 705h1M80 705h1M158 705h1M223 705h1M288 705h1M353 705h1M418 705h1M483 705h1M561 705h1M613 705h1M678 705h1M743 705h1M808 705h1M873 705h1M951 705h1M990 705h1M1055 705h1M1120 705h1M1185 705h1M41 701h1M80 701h1M158 701h1M223 701h1M288 701h1M353 701h1M418 701h1M483 701h1M561 701h1M613 701h1M678 701h1M743 701h1M808 701h1M873 701h1M951 701h1M990 701h1M1055 701h1M1120 701h1M1185 701h1M41 698h1M80 698h1M158 698h1M223 698h1M288 698h1M353 698h1M418 698h1M483 698h1M561 698h1M613 698h1M678 698h1M743 698h1M808 698h1M873 698h1M951 698h1M990 698h1M1055 698h1M1120 698h1M1185 698h1M41 694h1M80 694h1M158 694h1M223 694h1M288 694h1M353 694h1M418 694h1M483 694h1M561 694h1M613 694h1M678 694h1M743 694h1M808 694h1M873 694h1M951 694h1M990 694h1M1055 694h1M1120 694h1M1185 694h1M41 691h1M80 691h1M158 691h1M223 691h1M288 691h1M353 691h1M418 691h1M483 691h1M561 691h1M613 691h1M678 691h1M743 691h1M808 691h1M873 691h1M951 691h1M990 691h1M1055 691h1M1120 691h1M1185 691h1M41 688h1M80 688h1M158 688h1M223 688h1M288 688h1M353 688h1M418 688h1M483 688h1M561 688h1M613 688h1M678 688h1M743 688h1M808 688h1M873 688h1M951 688h1M990 688h1M1055 688h1M1120 688h1M1185 688h1M41 684h1M80 684h1M158 684h1M223 684h1M288 684h1M353 684h1M418 684h1M483 684h1M561 684h1M613 684h1M678 684h1M743 684h1M808 684h1M873 684h1M951 684h1M990 684h1M1055 684h1M1120 684h1M1185 684h1M41 681h1M80 681h1M158 681h1M223 681h1M288 681h1M353 681h1M418 681h1M483 681h1M561 681h1M613 681h1M678 681h1M743 681h1M808 681h1M873 681h1M951 681h1M990 681h1M1055 681h1M1120 681h1M1185 681h1M41 677h1M80 677h1M158 677h1M223 677h1M288 677h1M353 677h1M418 677h1M483 677h1M561 677h1M613 677h1M678 677h1M743 677h1M808 677h1M873 677h1M951 677h1M990 677h1M1055 677h1M1120 677h1M1185 677h1M41 674h1M80 674h1M158 674h1M223 674h1M288 674h1M353 674h1M418 674h1M483 674h1M561 674h1M613 674h1M678 674h1M743 674h1M808 674h1M873 674h1M951 674h1M990 674h1M1055 674h1M1120 674h1M1185 674h1M41 670h1M80 670h1M158 670h1M223 670h1M288 670h1M353 670h1M418 670h1M483 670h1M561 670h1M613 670h1M678 670h1M743 670h1M808 670h1M873 670h1M951 670h1M990 670h1M1055 670h1M1120 670h1M1185 670h1" stroke="#000" stroke-width="1" fill="none" transform="translate(0,0.5)"/>
<rect x="1213" y="718" width="2" height="1" fill="#000" />
<rect x="1" y="718" width="2" height="1" fill="#000" />
<rect x="1213" y="715" width="2" height="1" fill="#000" />
<rect x="1" y="715" width="2" height="1" fill="#000" />
<rect x="1213" y="712" width="2" height="1" fill="#000" />
<rect x="1" y="712" width="2" height="1" fill="#000" />
<rect x="1213" y="708" width="2" height="1" fill="#000" />
<rect x="1" y="708" width="2" height="1" fill="#000" />
<rect x="1211" y="705" width="4" height="1" fill="#000" />
<rect x="1" y="705" width="4" height="1" fill="#000" />
<rect x="1213" y="701" width="2" height="1" fill="#000" />
<rect x="1" y="701" width="2" height="1" fill="#000" />
<rect x="1213" y="698" width="2" height="1" fill="#000" />
<rect x="1" y="698" width="2" height="1" fill="#000" />
<rect x="1213" y="694" width="2" height="1" fill="#000" />
<rect x="1" y="694" width="2" height="1" fill="#000" />
<rect x="1213" y="691" width="2" height="1" fill="#000" />
<rect x="1" y="691" width="2" height="1" fill="#000" />
<rect x="1211" y="688" width="4" height="1" fill="#000" />
<rect x="1" y="688" width="4" height="1" fill="#000" />
<rect x="1213" y="684" width="2" height="1" fill="#000" />
<rect x="1" y="684" width="2" height="1" fill="#000" />
<rect x="1213" y="681" width="2" height="1" fill="#000" />
<rect x="1" y="681" width="2" height="1" fill="#000" />
<rect x="1213" y="677" width="2" height="1" fill="#000" />
<rect x="1" y="677" width="2" height="1" fill="#000" />
<rect x="1213" y="674" width="2" height="1" fill="#000" />
<rect x="1" y="674" width="2" height="1" fill="#000" />
<rect x="1211" y="670" width="4" height="1" fill="#000" />
<rect x="1" y="670" width="4" height="1" fill="#000" />
<rect x="1" y="722" width="1214" height="1" fill="#808080" />
<polyline points="2.0,712.2 15.0,710.2 28.0,705.1 41.0,700.1 54.0,705.9 67.0,707.2 80.0,704.4 93.0,710.2 106.0,713.9 119.0,710.2 132.0,706.4 145.0,711.4 158.0,715.2 171.0,708.9 184.0,703.9 197.0,700.1 210.0,697.1 223.0,700.9 236.0,702.6 249.0,705.6 262.0,703.4 275.0,705.6 288.0,709.4 301.0,706.4 314.0,712.4 327.0,713.4 340.0,713.9 353.0,708.2 366.0,713.2 379.0,708.9 392.0,704.6 405.0,702.6 418.0,697.6 431.0,694.4 444.0,702.6 457.0,708.9 470.0,709.4 483.0,710.9 496.0,707.2 509.0,710.2 522.0,713.9 535.0,709.4 548.0,713.4 561.0,708.9 574.0,705.1 587.0,700.1 600.0,696.4 613.0,693.4 626.0,692.4 639.0,700.1 652.0,705.1 665.0,710.2 678.0,706.4 691.0,703.1 704.0,698.1 717.0,695.1 730.0,693.1 743.0,691.4 756.0,700.9 769.0,702.1 782.0,700.1 795.0,706.4 808.0,711.4 821.0,712.7 834.0,710.9 847.0,706.4 860.0,700.9 873.0,696.9 886.0,703.9 899.0,706.4 912.0,703.9 925.0,701.4 938.0,697.6 951.0,693.9 964.0,691.9 977.0,690.1 990.0,688.8 1003.0,689.3 1016.0,692.1 1029.0,702.1 1042.0,703.1 1055.0,700.9 1068.0,699.4 1081.0,707.7 1094.0,706.9 1107.0,710.9 1120.0,706.9 1133.0,702.1 1146.0,698.9 1159.0,704.4 1172.0,702.6 1185.0,702.1" fill="none" stroke="#108010" stroke-width="1" />
<polyline points="2.0,718.2 15.0,719.4 28.0,720.7 41.0,721.4 54.0,710.2 67.0,710.2 80.0,715.2 93.0,708.4 106.0,713.9 119.0,717.7 132.0,719.4 145.0,713.4 158.0,717.2 171.0,710.2 184.0,707.2 197.0,707.2 210.0,712.7 223.0,716.4 236.0,718.9 249.0,707.7 262.0,704.6 275.0,711.9 288.0,715.2 301.0,718.2 314.0,712.2 327.0,713.9 340.0,716.4 353.0,712.2 366.0,715.7 379.0,712.2 392.0,711.4 405.0,715.2 418.0,706.4 431.0,703.9 444.0,711.4 457.0,714.7 470.0,718.4 483.0,712.7 496.0,711.4 509.0,715.2 522.0,716.4 535.0,709.4 548.0,714.7 561.0,710.2 574.0,711.4 587.0,703.9 600.0,707.2 613.0,699.6 626.0,707.7 639.0,713.9 652.0,717.2 665.0,719.4 678.0,711.4 691.0,715.2 704.0,711.4 717.0,710.9 730.0,708.2 743.0,713.9 756.0,717.2 769.0,708.4 782.0,707.2 795.0,713.2 808.0,716.4 821.0,718.4 834.0,715.2 847.0,710.9 860.0,709.4 873.0,709.4 886.0,713.9 899.0,717.2 912.0,719.4 925.0,720.4 938.0,720.4 951.0,721.4 964.0,721.4 977.0,721.4 990.0,721.4 1003.0,721.4 1016.0,719.4 1029.0,715.7 1042.0,706.4 1055.0,703.9 1068.0,710.2 1081.0,714.7 1094.0,712.2 1107.0,715.7 1120.0,718.2 1133.0,720.4 1146.0,720.4 1159.0,707.7 1172.0,704.6 1185.0,711.4" fill="none" stroke="#ff1010" stroke-width="1" />
<polyline points="2.0,715.7 15.0,715.2 28.0,713.9 41.0,709.4 54.0,713.9 67.0,717.7 80.0,695.6 93.0,705.9 106.0,712.7 119.0,705.9 132.0,709.4 145.0,713.9 158.0,715.2 171.0,718.2 184.0,719.4 197.0,720.2 210.0,721.4 223.0,707.2 236.0,710.2 249.0,715.2 262.0,717.7 275.0,717.7 288.0,713.9 301.0,705.6 314.0,712.7 327.0,715.7 340.0,717.7 353.0,719.4 366.0,717.2 379.0,719.4 392.0,720.4 405.0,720.4 418.0,721.4 431.0,721.4 444.0,715.2 457.0,714.7 470.0,713.2 483.0,716.4 496.0,718.2 509.0,712.2 522.0,715.7 535.0,718.2 548.0,715.2 561.0,718.2 574.0,719.4 587.0,720.4 600.0,721.4 613.0,721.4 626.0,721.1 639.0,717.2 652.0,719.4 665.0,718.2 678.0,719.4 691.0,720.4 704.0,721.4 717.0,721.4 730.0,721.4 743.0,721.4 756.0,715.2 769.0,718.4 782.0,719.4 795.0,715.2 808.0,717.2 821.0,716.4 834.0,718.2 847.0,720.4 860.0,720.4 873.0,721.4 886.0,715.7 899.0,712.2 912.0,706.4 925.0,712.2 938.0,698.5 951.0,699.4 964.0,708.2 977.0,698.9 990.0,687.6 1003.0,697.1 1016.0,706.4 1029.0,712.7 1042.0,715.7 1055.0,718.2 1068.0,720.4 1081.0,715.7 1094.0,718.4 1107.0,715.2 1120.0,707.7 1133.0,703.1 1146.0,710.2 1159.0,715.2 1172.0,717.2 1185.0,719.4" fill="none" stroke="#1010ff" stroke-width="1" />
<text x="1264.5" y="692" font-size="9.3" font-weight="bold" fill="#000" text-anchor="end" textLength="48" lengthAdjust="spacingAndGlyphs" stroke="#000" stroke-width="0.3">100.00000</text>
<clipPath id="c624"><rect x="1216" y="714" width="52" height="12"/></clipPath>
<g clip-path="url(#c624)">
<rect x="1216" y="714" width="51" height="12" fill="#000" />
<rect x="1216" y="715" width="50" height="10" fill="#0000ff" />
<text x="1265.5" y="724" font-size="9.3" font-weight="bold" fill="#fff" text-anchor="end" textLength="37.7" lengthAdjust="spacingAndGlyphs" stroke="#fff" stroke-width="0.3">7.39780</text>
</g>
<clipPath id="c630"><rect x="1216" y="706" width="52" height="12"/></clipPath>
<g clip-path="url(#c630)">
<rect x="1216" y="706" width="51" height="12" fill="#000" />
<rect x="1216" y="707" width="50" height="10" fill="#ff0000" />
<text x="1265.5" y="716" font-size="9.3" font-weight="bold" fill="#fff" text-anchor="end" textLength="43.5" lengthAdjust="spacingAndGlyphs" stroke="#fff" stroke-width="0.3">30.62878</text>
</g>
<clipPath id="c636"><rect x="1216" y="697" width="52" height="12"/></clipPath>
<g clip-path="url(#c636)">
<rect x="1216" y="697" width="51" height="12" fill="#000" />
<rect x="1216" y="698" width="50" height="10" fill="#008000" />
<text x="1265.5" y="707" font-size="9.3" font-weight="bold" fill="#fff" text-anchor="end" textLength="43.5" lengthAdjust="spacingAndGlyphs" stroke="#fff" stroke-width="0.3">58.08861</text>
</g>
<rect x="2" y="663" width="26" height="12" fill="#808080" />
<rect x="2" y="663" width="25" height="11" fill="#404040" />
<rect x="1" y="662" width="25" height="11" fill="#fff" />
<text x="1.8" y="671" font-size="9.4" font-weight="bold" fill="#000" text-anchor="start" textLength="21.6" lengthAdjust="spacingAndGlyphs" stroke="#000" stroke-width="0.35">ADX</text>
<path d="M2 764h1M15 764h1M28 764h1M41 764h1M54 764h1M67 764h1M80 764h1M93 764h1M106 764h1M119 764h1M132 764h1M145 764h1M158 764h1M171 764h1M184 764h1M197 764h1M210 764h1M223 764h1M236 764h1M249 764h1M262 764h1M275 764h1M288 764h1M301 764h1M314 764h1M327 764h1M340 764h1M353 764h1M366 764h1M379 764h1M392 764h1M405 764h1M418 764h1M431 764h1M444 764h1M457 764h1M470 764h1M483 764h1M496 764h1M509 764h1M522 764h1M535 764h1M548 764h1M561 764h1M574 764h1M587 764h1M600 764h1M613 764h1M626 764h1M639 764h1M652 764h1M665 764h1M678 764h1M691 764h1M704 764h1M717 764h1M730 764h1M743 764h1M756 764h1M769 764h1M782 764h1M795 764h1M808 764h1M821 764h1M834 764h1M847 764h1M860 764h1M873 764h1M886 764h1M899 764h1M912 764h1M925 764h1M938 764h1M951 764h1M964 764h1M977 764h1M990 764h1M1003 764h1M1016 764h1M1029 764h1M1042 764h1M1055 764h1M1068 764h1M1081 764h1M1094 764h1M1107 764h1M1120 764h1M1133 764h1M1146 764h1M1159 764h1M1172 764h1M1185 764h1M2 809h1M15 809h1M28 809h1M41 809h1M54 809h1M67 809h1M80 809h1M93 809h1M106 809h1M119 809h1M132 809h1M145 809h1M158 809h1M171 809h1M184 809h1M197 809h1M210 809h1M223 809h1M236 809h1M249 809h1M262 809h1M275 809h1M288 809h1M301 809h1M314 809h1M327 809h1M340 809h1M353 809h1M366 809h1M379 809h1M392 809h1M405 809h1M418 809h1M431 809h1M444 809h1M457 809h1M470 809h1M483 809h1M496 809h1M509 809h1M522 809h1M535 809h1M548 809h1M561 809h1M574 809h1M587 809h1M600 809h1M613 809h1M626 809h1M639 809h1M652 809h1M665 809h1M678 809h1M691 809h1M704 809h1M717 809h1M730 809h1M743 809h1M756 809h1M769 809h1M782 809h1M795 809h1M808 809h1M821 809h1M834 809h1M847 809h1M860 809h1M873 809h1M886 809h1M899 809h1M912 809h1M925 809h1M938 809h1M951 809h1M964 809h1M977 809h1M990 809h1M1003 809h1M1016 809h1M1029 809h1M1042 809h1M1055 809h1M1068 809h1M1081 809h1M1094 809h1M1107 809h1M1120 809h1M1133 809h1M1146 809h1M1159 809h1M1172 809h1M1185 809h1" stroke="#000" stroke-width="1" fill="none" transform="translate(0,0.5)"/>
<path d="M41 809h1M80 809h1M158 809h1M223 809h1M288 809h1M353 809h1M418 809h1M483 809h1M561 809h1M613 809h1M678 809h1M743 809h1M808 809h1M873 809h1M951 809h1M990 809h1M1055 809h1M1120 809h1M1185 809h1M41 804h1M80 804h1M158 804h1M223 804h1M288 804h1M353 804h1M418 804h1M483 804h1M561 804h1M613 804h1M678 804h1M743 804h1M808 804h1M873 804h1M951 804h1M990 804h1M1055 804h1M1120 804h1M1185 804h1M41 800h1M80 800h1M158 800h1M223 800h1M288 800h1M353 800h1M418 800h1M483 800h1M561 800h1M613 800h1M678 800h1M743 800h1M808 800h1M873 800h1M951 800h1M990 800h1M1055 800h1M1120 800h1M1185 800h1M41 795h1M80 795h1M158 795h1M223 795h1M288 795h1M353 795h1M418 795h1M483 795h1M561 795h1M613 795h1M678 795h1M743 795h1M808 795h1M873 795h1M951 795h1M990 795h1M1055 795h1M1120 795h1M1185 795h1M41 791h1M80 791h1M158 791h1M223 791h1M288 791h1M353 791h1M418 791h1M483 791h1M561 791h1M613 791h1M678 791h1M743 791h1M808 791h1M873 791h1M951 791h1M990 791h1M1055 791h1M1120 791h1M1185 791h1M41 786h1M80 786h1M158 786h1M223 786h1M288 786h1M353 786h1M418 786h1M483 786h1M561 786h1M613 786h1M678 786h1M743 786h1M808 786h1M873 786h1M951 786h1M990 786h1M1055 786h1M1120 786h1M1185 786h1M41 782h1M80 782h1M158 782h1M223 782h1M288 782h1M353 782h1M418 782h1M483 782h1M561 782h1M613 782h1M678 782h1M743 782h1M808 782h1M873 782h1M951 782h1M990 782h1M1055 782h1M1120 782h1M1185 782h1M41 777h1M80 777h1M158 777h1M223 777h1M288 777h1M353 777h1M418 777h1M483 777h1M561 777h1M613 777h1M678 777h1M743 777h1M808 777h1M873 777h1M951 777h1M990 777h1M1055 777h1M1120 777h1M1185 777h1M41 773h1M80 773h1M158 773h1M223 773h1M288 773h1M353 773h1M418 773h1M483 773h1M561 773h1M613 773h1M678 773h1M743 773h1M808 773h1M873 773h1M951 773h1M990 773h1M1055 773h1M1120 773h1M1185 773h1M41 768h1M80 768h1M158 768h1M223 768h1M288 768h1M353 768h1M418 768h1M483 768h1M561 768h1M613 768h1M678 768h1M743 768h1M808 768h1M873 768h1M951 768h1M990 768h1M1055 768h1M1120 768h1M1185 768h1M41 764h1M80 764h1M158 764h1M223 764h1M288 764h1M353 764h1M418 764h1M483 764h1M561 764h1M613 764h1M678 764h1M743 764h1M808 764h1M873 764h1M951 764h1M990 764h1M1055 764h1M1120 764h1M1185 764h1M41 759h1M80 759h1M158 759h1M223 759h1M288 759h1M353 759h1M418 759h1M483 759h1M561 759h1M613 759h1M678 759h1M743 759h1M808 759h1M873 759h1M951 759h1M990 759h1M1055 759h1M1120 759h1M1185 759h1M41 755h1M80 755h1M158 755h1M223 755h1M288 755h1M353 755h1M418 755h1M483 755h1M561 755h1M613 755h1M678 755h1M743 755h1M808 755h1M873 755h1M951 755h1M990 755h1M1055 755h1M1120 755h1M1185 755h1M41 750h1M80 750h1M158 750h1M223 750h1M288 750h1M353 750h1M418 750h1M483 750h1M561 750h1M613 750h1M678 750h1M743 750h1M808 750h1M873 750h1M951 750h1M990 750h1M1055 750h1M1120 750h1M1185 750h1M41 746h1M80 746h1M158 746h1M223 746h1M288 746h1M353 746h1M418 746h1M483 746h1M561 746h1M613 746h1M678 746h1M743 746h1M808 746h1M873 746h1M951 746h1M990 746h1M1055 746h1M1120 746h1M1185 746h1" stroke="#000" stroke-width="1" fill="none" transform="translate(0,0.5)"/>
<rect x="1211" y="809" width="4" height="1" fill="#000" />
<rect x="1" y="809" width="4" height="1" fill="#000" />
<rect x="1213" y="804" width="2" height="1" fill="#000" />
<rect x="1" y="804" width="2" height="1" fill="#000" />
<rect x="1213" y="800" width="2" height="1" fill="#000" />
<rect x="1" y="800" width="2" height="1" fill="#000" />
<rect x="1213" y="795" width="2" height="1" fill="#000" />
<rect x="1" y="795" width="2" height="1" fill="#000" />
<rect x="1213" y="791" width="2" height="1" fill="#000" />
<rect x="1" y="791" width="2" height="1" fill="#000" />
<rect x="1211" y="786" width="1" height="1" fill="#000" />
<rect x="4" y="786" width="1" height="1" fill="#000" />
<rect x="1213" y="786" width="2" height="1" fill="#000" />
<rect x="1" y="786" width="2" height="1" fill="#000" />
<rect x="1213" y="782" width="2" height="1" fill="#000" />
<rect x="1" y="782" width="2" height="1" fill="#000" />
<rect x="1213" y="777" width="2" height="1" fill="#000" />
<rect x="1" y="777" width="2" height="1" fill="#000" />
<rect x="1213" y="773" width="2" height="1" fill="#000" />
<rect x="1" y="773" width="2" height="1" fill="#000" />
<rect x="1213" y="768" width="2" height="1" fill="#000" />
<rect x="1" y="768" width="2" height="1" fill="#000" />
<rect x="1211" y="764" width="1" height="1" fill="#000" />
<rect x="4" y="764" width="1" height="1" fill="#000" />
<rect x="1213" y="759" width="2" height="1" fill="#000" />
<rect x="1" y="759" width="2" height="1" fill="#000" />
<rect x="1213" y="755" width="2" height="1" fill="#000" />
<rect x="1" y="755" width="2" height="1" fill="#000" />
<rect x="1213" y="750" width="2" height="1" fill="#000" />
<rect x="1" y="750" width="2" height="1" fill="#000" />
<rect x="1213" y="746" width="2" height="1" fill="#000" />
<rect x="1" y="746" width="2" height="1" fill="#000" />
<path d="M1 786.5H1215" stroke="#0000cc" stroke-dasharray="3 3" fill="none"/>
<polyline points="2.0,756.1 15.0,754.1 28.0,755.4 41.0,750.1 54.0,770.1 67.0,767.5 80.0,761.1 93.0,765.1 106.0,762.4 119.0,755.1 132.0,757.4 145.0,754.1 158.0,763.4 171.0,776.8 184.0,778.5 197.0,782.5 210.0,777.5 223.0,764.1 236.0,769.5 249.0,776.1 262.0,782.5 275.0,775.1 288.0,768.5 301.0,761.4 314.0,770.1 327.0,767.5 340.0,771.5 353.0,768.5 366.0,772.5 379.0,771.1 392.0,773.5 405.0,776.1 418.0,782.2 431.0,783.5 444.0,783.2 457.0,774.1 470.0,767.5 483.0,779.5 496.0,778.5 509.0,766.1 522.0,775.1 535.0,773.8 548.0,775.1 561.0,780.2 574.0,780.2 587.0,789.2 600.0,790.5 613.0,792.5 626.0,794.5 639.0,779.2 652.0,781.5 665.0,776.5 678.0,785.5 691.0,782.8 704.0,781.2 717.0,789.2 730.0,789.2 743.0,775.8 756.0,771.5 769.0,783.2 782.0,776.1 795.0,777.5 808.0,778.5 821.0,767.5 834.0,776.1 847.0,777.8 860.0,782.5 873.0,778.5 886.0,776.1 899.0,769.5 912.0,759.4 925.0,761.8 938.0,759.4 951.0,755.1 964.0,758.4 977.0,752.7 990.0,746.7 1003.0,744.0 1016.0,757.4 1029.0,757.4 1042.0,764.4 1055.0,771.8 1068.0,769.1 1081.0,762.4 1094.0,775.1 1107.0,757.4 1120.0,750.7 1133.0,745.0 1146.0,749.4 1159.0,758.4 1172.0,768.5 1185.0,767.5" fill="none" stroke="#1010ff" stroke-width="1" />
<clipPath id="c682"><rect x="1216" y="737" width="52" height="12"/></clipPath>
<g clip-path="url(#c682)">
<rect x="1216" y="737" width="51" height="12" fill="#000" />
<rect x="1216" y="738" width="50" height="10" fill="#c00000" />
<text x="1265.5" y="747" font-size="9.3" font-weight="bold" fill="#fff" text-anchor="end" textLength="26.1" lengthAdjust="spacingAndGlyphs" stroke="#fff" stroke-width="0.3">75.00</text>
</g>
<text x="1264.2" y="768" font-size="9.3" font-weight="bold" fill="#000" text-anchor="end" textLength="26.1" lengthAdjust="spacingAndGlyphs" stroke="#000" stroke-width="0.3">50.00</text>
<clipPath id="c689"><rect x="1216" y="762" width="52" height="12"/></clipPath>
<g clip-path="url(#c689)">
<rect x="1216" y="762" width="51" height="12" fill="#000" />
<rect x="1216" y="763" width="50" height="10" fill="#0000ff" />
<text x="1265.5" y="772" font-size="9.3" font-weight="bold" fill="#fff" text-anchor="end" textLength="26.1" lengthAdjust="spacingAndGlyphs" stroke="#fff" stroke-width="0.3">46.85</text>
</g>
<clipPath id="c695"><rect x="1216" y="781" width="52" height="12"/></clipPath>
<g clip-path="url(#c695)">
<rect x="1216" y="781" width="51" height="12" fill="#000" />
<rect x="1216" y="782" width="50" height="10" fill="#0000cc" />
<text x="1265.5" y="791" font-size="9.3" font-weight="bold" fill="#fff" text-anchor="end" textLength="26.1" lengthAdjust="spacingAndGlyphs" stroke="#fff" stroke-width="0.3">25.00</text>
</g>
<text x="1264.2" y="813" font-size="9.3" font-weight="bold" fill="#000" text-anchor="end" textLength="20.3" lengthAdjust="spacingAndGlyphs" stroke="#000" stroke-width="0.3">0.00</text>
<rect x="2" y="734" width="34" height="12" fill="#808080" />
<rect x="2" y="734" width="33" height="11" fill="#404040" />
<rect x="1" y="733" width="33" height="11" fill="#fff" />
<text x="1.8" y="742" font-size="9.4" font-weight="bold" fill="#000" text-anchor="start" textLength="29.6" lengthAdjust="spacingAndGlyphs" stroke="#000" stroke-width="0.35">RSI, 8</text>
<path d="M1 742.5H1215" stroke="#cc0000" stroke-dasharray="3 3" fill="none"/>
<rect x="41" y="821" width="1" height="13" fill="#000" />
<text x="43" y="832" font-size="11" font-weight="normal" fill="#000" text-anchor="start" textLength="32.6" lengthAdjust="spacingAndGlyphs" >Мар 5</text>
<rect x="80" y="821" width="1" height="13" fill="#000" />
<text x="82" y="832" font-size="11" font-weight="normal" fill="#000" text-anchor="start" >11</text>
<rect x="158" y="821" width="1" height="13" fill="#000" />
<text x="160" y="832" font-size="11" font-weight="normal" fill="#000" text-anchor="start" >19</text>
<rect x="223" y="821" width="1" height="13" fill="#000" />
<text x="225" y="832" font-size="11" font-weight="normal" fill="#000" text-anchor="start" >26</text>
<rect x="288" y="821" width="1" height="13" fill="#000" />
<text x="290" y="832" font-size="11" font-weight="normal" fill="#000" text-anchor="start" textLength="31.5" lengthAdjust="spacingAndGlyphs" >Апр 2</text>
<rect x="353" y="821" width="1" height="13" fill="#000" />
<text x="355" y="832" font-size="11" font-weight="normal" fill="#000" text-anchor="start" >9</text>
<rect x="418" y="821" width="1" height="13" fill="#000" />
<text x="420" y="832" font-size="11" font-weight="normal" fill="#000" text-anchor="start" >16</text>
<rect x="483" y="821" width="1" height="13" fill="#000" />
<text x="485" y="832" font-size="11" font-weight="normal" fill="#000" text-anchor="start" >23</text>
<rect x="561" y="821" width="1" height="13" fill="#000" />
<text x="563" y="832" font-size="11" font-weight="normal" fill="#000" text-anchor="start" textLength="32.5" lengthAdjust="spacingAndGlyphs" >Май 2</text>
<rect x="613" y="821" width="1" height="13" fill="#000" />
<text x="615" y="832" font-size="11" font-weight="normal" fill="#000" text-anchor="start" >7</text>
<rect x="678" y="821" width="1" height="13" fill="#000" />
<text x="680" y="832" font-size="11" font-weight="normal" fill="#000" text-anchor="start" >14</text>
<rect x="743" y="821" width="1" height="13" fill="#000" />
<text x="745" y="832" font-size="11" font-weight="normal" fill="#000" text-anchor="start" >21</text>
<rect x="808" y="821" width="1" height="13" fill="#000" />
<text x="810" y="832" font-size="11" font-weight="normal" fill="#000" text-anchor="start" >28</text>
<rect x="873" y="821" width="1" height="13" fill="#000" />
<text x="875" y="832" font-size="11" font-weight="normal" fill="#000" text-anchor="start" textLength="34" lengthAdjust="spacingAndGlyphs" >Июн 4</text>
<rect x="951" y="821" width="1" height="13" fill="#000" />
<text x="953" y="832" font-size="11" font-weight="normal" fill="#000" text-anchor="start" >13</text>
<rect x="990" y="821" width="1" height="13" fill="#000" />
<text x="992" y="832" font-size="11" font-weight="normal" fill="#000" text-anchor="start" >18</text>
<rect x="1055" y="821" width="1" height="13" fill="#000" />
<text x="1057" y="832" font-size="11" font-weight="normal" fill="#000" text-anchor="start" >25</text>
<rect x="1120" y="821" width="1" height="13" fill="#000" />
<text x="1122" y="832" font-size="11" font-weight="normal" fill="#000" text-anchor="start" textLength="33.5" lengthAdjust="spacingAndGlyphs" >Июл 2</text>
<rect x="1185" y="821" width="1" height="13" fill="#000" />
<text x="1187" y="832" font-size="11" font-weight="normal" fill="#000" text-anchor="start" >9</text>
</svg></body></html>
